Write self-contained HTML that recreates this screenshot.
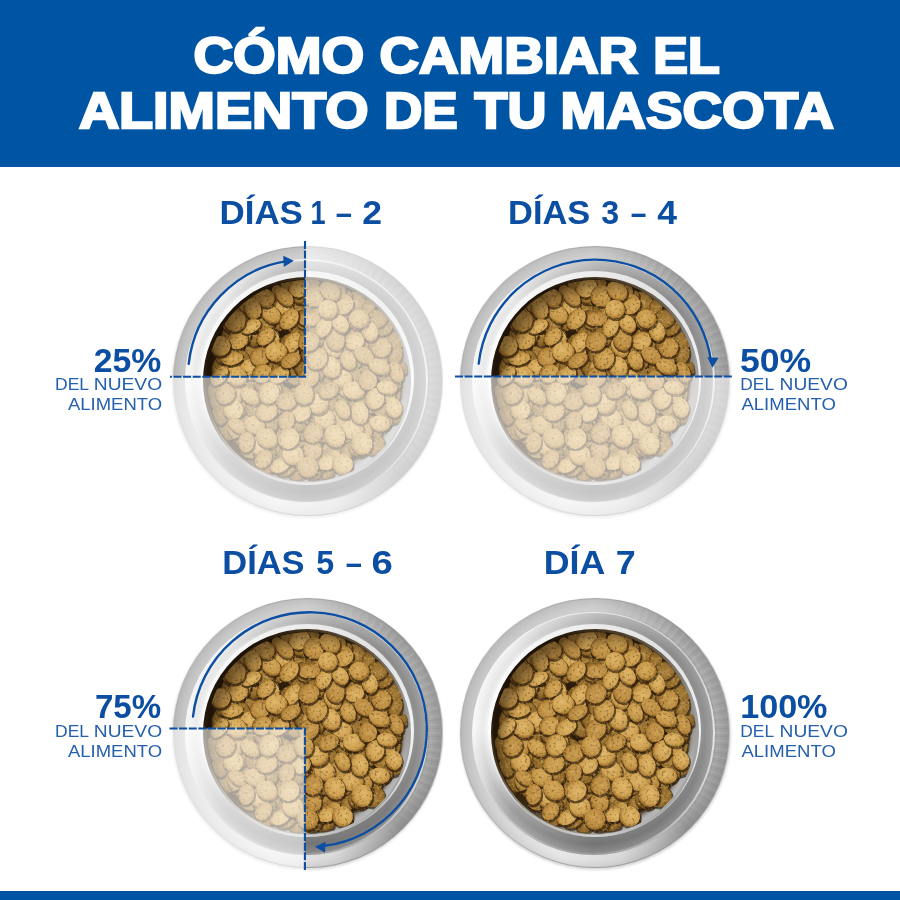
<!DOCTYPE html>
<html lang="es"><head><meta charset="utf-8"><title>Cómo cambiar el alimento de tu mascota</title>
<style>
html,body{margin:0;padding:0}
body{width:900px;height:900px;position:relative;overflow:hidden;background:#fff;font-family:"Liberation Sans",sans-serif}
.hdr{position:absolute;left:0;top:0;width:900px;height:166.5px;background:#0054a4}
.ftr{position:absolute;left:0;top:891.3px;width:900px;height:9px;background:#0054a4}
.d{position:absolute;border-radius:50%}
svg{position:absolute;left:0;top:0}
text{font-family:"Liberation Sans",sans-serif}
.b{font-weight:bold}
</style></head><body>
<div class="hdr"></div><div class="ftr"></div>
<div class="d" style="left:172.4px;top:247.0px;width:271.0px;height:271.0px;background:#d9d9d9;filter:blur(1.2px)"></div><div class="d" style="left:172.6px;top:245.6px;width:270.6px;height:270.6px;background:conic-gradient(#a9a9a9,#9a9a9a 45deg,#bdbdbd 90deg,#9a9a9a 135deg,#a2a2a2 180deg,#b8b8b8 225deg,#b4b4b4 270deg,#bdbdbd 315deg,#a9a9a9);"></div><div class="d" style="left:174.0px;top:247.0px;width:267.8px;height:267.8px;background:radial-gradient(circle closest-side,rgba(255,255,255,0) 0 89.5%,rgba(255,255,255,.12) 91.5%,rgba(255,255,255,.02) 95%,rgba(0,0,0,.04) 99%,rgba(0,0,0,.08) 100%),conic-gradient(#cacaca,#a2a2a2 40deg,#9e9e9e 90deg,#949494 135deg,#d6d6d6 168deg,#e6e6e6 195deg,#cecece 235deg,#c2c2c2 270deg,#c4c4c4 315deg,#cacaca);"></div><div class="d" style="left:174.4px;top:247.4px;width:267.0px;height:267.0px;background:repeating-conic-gradient(from 8deg,rgba(255,255,255,.08) 0deg .8deg,rgba(255,255,255,0) .8deg 1.7deg,rgba(0,0,0,.03) 1.7deg 2.3deg,rgba(255,255,255,0) 2.3deg 3.7deg);-webkit-mask-image:conic-gradient(transparent 5deg,#000 30deg,#000 110deg,transparent 150deg,transparent 360deg);mask-image:conic-gradient(transparent 5deg,#000 30deg,#000 110deg,transparent 150deg,transparent 360deg)"></div><div class="d" style="left:184.8px;top:259.3px;width:243.2px;height:243.2px;background:conic-gradient(#ececec,#d2d2d2 45deg,#e6e6e6 90deg,#c4c4c4 135deg,#989898 180deg,#c6c6c6 225deg,#f6f6f6 270deg,#f6f6f6 315deg,#ececec);"></div><div class="d" style="left:186.6px;top:261.1px;width:239.6px;height:239.6px;background:radial-gradient(circle closest-side,rgba(0,0,0,0) 0 88%,rgba(0,0,0,.05) 93%,rgba(255,255,255,.10) 100%),conic-gradient(#bababa,#929292 45deg,#979797 90deg,#828282 135deg,#7b7b7b 180deg,#a4a4a4 225deg,#dcdcdc 250deg,#f7f7f7 272deg,#f0f0f0 315deg,#bcbcbc);"></div><div class="d" style="left:200.5px;top:271.4px;width:213.8px;height:213.8px;background:conic-gradient(#ececec,#e0e0e0 45deg,#f4f4f4 90deg,#d0d0d0 135deg,#a5a5a5 180deg,#d0d0d0 225deg,#fcfcfc 270deg,#f8f8f8 315deg,#ececec);"></div><div class="d" style="left:203.4px;top:276.9px;width:208.0px;height:208.0px;background:conic-gradient(#40301a,#6a6052 40deg,#9c9c9c 75deg,#a2a2a2 100deg,#a8a8a8 140deg,#d2d2d2 180deg,#b9b5ad 215deg,#4a3a22 250deg,#22160a 280deg,#1c1208 330deg,#40301a);"></div><div class="d" style="left:459.5px;top:247.0px;width:271.0px;height:271.0px;background:#d9d9d9;filter:blur(1.2px)"></div><div class="d" style="left:459.7px;top:245.6px;width:270.6px;height:270.6px;background:conic-gradient(#a9a9a9,#9a9a9a 45deg,#bdbdbd 90deg,#9a9a9a 135deg,#a2a2a2 180deg,#b8b8b8 225deg,#b4b4b4 270deg,#bdbdbd 315deg,#a9a9a9);"></div><div class="d" style="left:461.1px;top:247.0px;width:267.8px;height:267.8px;background:radial-gradient(circle closest-side,rgba(255,255,255,0) 0 89.5%,rgba(255,255,255,.12) 91.5%,rgba(255,255,255,.02) 95%,rgba(0,0,0,.04) 99%,rgba(0,0,0,.08) 100%),conic-gradient(#cacaca,#a2a2a2 40deg,#9e9e9e 90deg,#949494 135deg,#d6d6d6 168deg,#e6e6e6 195deg,#cecece 235deg,#c2c2c2 270deg,#c4c4c4 315deg,#cacaca);"></div><div class="d" style="left:461.5px;top:247.4px;width:267.0px;height:267.0px;background:repeating-conic-gradient(from 8deg,rgba(255,255,255,.08) 0deg .8deg,rgba(255,255,255,0) .8deg 1.7deg,rgba(0,0,0,.03) 1.7deg 2.3deg,rgba(255,255,255,0) 2.3deg 3.7deg);-webkit-mask-image:conic-gradient(transparent 5deg,#000 30deg,#000 110deg,transparent 150deg,transparent 360deg);mask-image:conic-gradient(transparent 5deg,#000 30deg,#000 110deg,transparent 150deg,transparent 360deg)"></div><div class="d" style="left:471.9px;top:259.3px;width:243.2px;height:243.2px;background:conic-gradient(#ececec,#d2d2d2 45deg,#e6e6e6 90deg,#c4c4c4 135deg,#989898 180deg,#c6c6c6 225deg,#f6f6f6 270deg,#f6f6f6 315deg,#ececec);"></div><div class="d" style="left:473.7px;top:261.1px;width:239.6px;height:239.6px;background:radial-gradient(circle closest-side,rgba(0,0,0,0) 0 88%,rgba(0,0,0,.05) 93%,rgba(255,255,255,.10) 100%),conic-gradient(#bababa,#929292 45deg,#979797 90deg,#828282 135deg,#7b7b7b 180deg,#a4a4a4 225deg,#dcdcdc 250deg,#f7f7f7 272deg,#f0f0f0 315deg,#bcbcbc);"></div><div class="d" style="left:487.6px;top:271.4px;width:213.8px;height:213.8px;background:conic-gradient(#ececec,#e0e0e0 45deg,#f4f4f4 90deg,#d0d0d0 135deg,#a5a5a5 180deg,#d0d0d0 225deg,#fcfcfc 270deg,#f8f8f8 315deg,#ececec);"></div><div class="d" style="left:490.5px;top:276.9px;width:208.0px;height:208.0px;background:conic-gradient(#40301a,#6a6052 40deg,#9c9c9c 75deg,#a2a2a2 100deg,#a8a8a8 140deg,#d2d2d2 180deg,#b9b5ad 215deg,#4a3a22 250deg,#22160a 280deg,#1c1208 330deg,#40301a);"></div><div class="d" style="left:172.4px;top:599.2px;width:271.0px;height:271.0px;background:#d9d9d9;filter:blur(1.2px)"></div><div class="d" style="left:172.6px;top:597.8px;width:270.6px;height:270.6px;background:conic-gradient(#a9a9a9,#9a9a9a 45deg,#bdbdbd 90deg,#9a9a9a 135deg,#a2a2a2 180deg,#b8b8b8 225deg,#b4b4b4 270deg,#bdbdbd 315deg,#a9a9a9);"></div><div class="d" style="left:174.0px;top:599.2px;width:267.8px;height:267.8px;background:radial-gradient(circle closest-side,rgba(255,255,255,0) 0 89.5%,rgba(255,255,255,.12) 91.5%,rgba(255,255,255,.02) 95%,rgba(0,0,0,.04) 99%,rgba(0,0,0,.08) 100%),conic-gradient(#cacaca,#a2a2a2 40deg,#9e9e9e 90deg,#949494 135deg,#d6d6d6 168deg,#e6e6e6 195deg,#cecece 235deg,#c2c2c2 270deg,#c4c4c4 315deg,#cacaca);"></div><div class="d" style="left:174.4px;top:599.6px;width:267.0px;height:267.0px;background:repeating-conic-gradient(from 8deg,rgba(255,255,255,.08) 0deg .8deg,rgba(255,255,255,0) .8deg 1.7deg,rgba(0,0,0,.03) 1.7deg 2.3deg,rgba(255,255,255,0) 2.3deg 3.7deg);-webkit-mask-image:conic-gradient(transparent 5deg,#000 30deg,#000 110deg,transparent 150deg,transparent 360deg);mask-image:conic-gradient(transparent 5deg,#000 30deg,#000 110deg,transparent 150deg,transparent 360deg)"></div><div class="d" style="left:184.8px;top:611.5px;width:243.2px;height:243.2px;background:conic-gradient(#ececec,#d2d2d2 45deg,#e6e6e6 90deg,#c4c4c4 135deg,#989898 180deg,#c6c6c6 225deg,#f6f6f6 270deg,#f6f6f6 315deg,#ececec);"></div><div class="d" style="left:186.6px;top:613.3px;width:239.6px;height:239.6px;background:radial-gradient(circle closest-side,rgba(0,0,0,0) 0 88%,rgba(0,0,0,.05) 93%,rgba(255,255,255,.10) 100%),conic-gradient(#bababa,#929292 45deg,#979797 90deg,#828282 135deg,#7b7b7b 180deg,#a4a4a4 225deg,#dcdcdc 250deg,#f7f7f7 272deg,#f0f0f0 315deg,#bcbcbc);"></div><div class="d" style="left:200.5px;top:623.6px;width:213.8px;height:213.8px;background:conic-gradient(#ececec,#e0e0e0 45deg,#f4f4f4 90deg,#d0d0d0 135deg,#a5a5a5 180deg,#d0d0d0 225deg,#fcfcfc 270deg,#f8f8f8 315deg,#ececec);"></div><div class="d" style="left:203.4px;top:629.1px;width:208.0px;height:208.0px;background:conic-gradient(#40301a,#6a6052 40deg,#9c9c9c 75deg,#a2a2a2 100deg,#a8a8a8 140deg,#d2d2d2 180deg,#b9b5ad 215deg,#4a3a22 250deg,#22160a 280deg,#1c1208 330deg,#40301a);"></div><div class="d" style="left:459.5px;top:599.2px;width:271.0px;height:271.0px;background:#d9d9d9;filter:blur(1.2px)"></div><div class="d" style="left:459.7px;top:597.8px;width:270.6px;height:270.6px;background:conic-gradient(#a9a9a9,#9a9a9a 45deg,#bdbdbd 90deg,#9a9a9a 135deg,#a2a2a2 180deg,#b8b8b8 225deg,#b4b4b4 270deg,#bdbdbd 315deg,#a9a9a9);"></div><div class="d" style="left:461.1px;top:599.2px;width:267.8px;height:267.8px;background:radial-gradient(circle closest-side,rgba(255,255,255,0) 0 89.5%,rgba(255,255,255,.12) 91.5%,rgba(255,255,255,.02) 95%,rgba(0,0,0,.04) 99%,rgba(0,0,0,.08) 100%),conic-gradient(#cacaca,#a2a2a2 40deg,#9e9e9e 90deg,#949494 135deg,#d6d6d6 168deg,#e6e6e6 195deg,#cecece 235deg,#c2c2c2 270deg,#c4c4c4 315deg,#cacaca);"></div><div class="d" style="left:461.5px;top:599.6px;width:267.0px;height:267.0px;background:repeating-conic-gradient(from 8deg,rgba(255,255,255,.08) 0deg .8deg,rgba(255,255,255,0) .8deg 1.7deg,rgba(0,0,0,.03) 1.7deg 2.3deg,rgba(255,255,255,0) 2.3deg 3.7deg);-webkit-mask-image:conic-gradient(transparent 5deg,#000 30deg,#000 110deg,transparent 150deg,transparent 360deg);mask-image:conic-gradient(transparent 5deg,#000 30deg,#000 110deg,transparent 150deg,transparent 360deg)"></div><div class="d" style="left:471.9px;top:611.5px;width:243.2px;height:243.2px;background:conic-gradient(#ececec,#d2d2d2 45deg,#e6e6e6 90deg,#c4c4c4 135deg,#989898 180deg,#c6c6c6 225deg,#f6f6f6 270deg,#f6f6f6 315deg,#ececec);"></div><div class="d" style="left:473.7px;top:613.3px;width:239.6px;height:239.6px;background:radial-gradient(circle closest-side,rgba(0,0,0,0) 0 88%,rgba(0,0,0,.05) 93%,rgba(255,255,255,.10) 100%),conic-gradient(#bababa,#929292 45deg,#979797 90deg,#828282 135deg,#7b7b7b 180deg,#a4a4a4 225deg,#dcdcdc 250deg,#f7f7f7 272deg,#f0f0f0 315deg,#bcbcbc);"></div><div class="d" style="left:487.6px;top:623.6px;width:213.8px;height:213.8px;background:conic-gradient(#ececec,#e0e0e0 45deg,#f4f4f4 90deg,#d0d0d0 135deg,#a5a5a5 180deg,#d0d0d0 225deg,#fcfcfc 270deg,#f8f8f8 315deg,#ececec);"></div><div class="d" style="left:490.5px;top:629.1px;width:208.0px;height:208.0px;background:conic-gradient(#40301a,#6a6052 40deg,#9c9c9c 75deg,#a2a2a2 100deg,#a8a8a8 140deg,#d2d2d2 180deg,#b9b5ad 215deg,#4a3a22 250deg,#22160a 280deg,#1c1208 330deg,#40301a);"></div><svg width="900" height="900" viewBox="0 0 900 900">
<defs>
<radialGradient id="k1" cx=".42" cy=".4" r=".64"><stop offset="0" stop-color="#d7ab5e"/><stop offset=".7" stop-color="#c49648"/><stop offset=".9" stop-color="#9c6f2d"/><stop offset="1" stop-color="#604016"/></radialGradient>
<radialGradient id="k2" cx=".45" cy=".42" r=".64"><stop offset="0" stop-color="#cda056"/><stop offset=".7" stop-color="#b98a40"/><stop offset=".9" stop-color="#926628"/><stop offset="1" stop-color="#593b13"/></radialGradient>
<radialGradient id="k3" cx=".42" cy=".4" r=".64"><stop offset="0" stop-color="#e1b86c"/><stop offset=".7" stop-color="#cd9f50"/><stop offset=".9" stop-color="#a27430"/><stop offset="1" stop-color="#654418"/></radialGradient>
<radialGradient id="k4" cx=".45" cy=".42" r=".64"><stop offset="0" stop-color="#a8803c"/><stop offset=".75" stop-color="#8c6528"/><stop offset="1" stop-color="#4a2f10"/></radialGradient>
<radialGradient id="k5" cx=".45" cy=".42" r=".64"><stop offset="0" stop-color="#b08644"/><stop offset=".75" stop-color="#916a2a"/><stop offset="1" stop-color="#4f3311"/></radialGradient>
<filter id="grain" x="-5%" y="-5%" width="110%" height="110%" color-interpolation-filters="sRGB">
<feTurbulence type="fractalNoise" baseFrequency="0.38" numOctaves="2" seed="4" result="n"/>
<feColorMatrix in="n" type="matrix" values="0 0 0 0 0.23  0 0 0 0 0.15  0 0 0 0 0.03  0 0 0 1.7 -0.95" result="d"/>
<feComposite in="d" in2="SourceGraphic" operator="in" result="dk"/>
<feColorMatrix in="n" type="matrix" values="0 0 0 0 0.9  0 0 0 0 0.74  0 0 0 0 0.42  0 1.9 0 0 -1.04" result="l"/>
<feComposite in="l" in2="SourceGraphic" operator="in" result="lt"/>
<feMerge><feMergeNode in="SourceGraphic"/><feMergeNode in="dk"/><feMergeNode in="lt"/></feMerge>
</filter>
<linearGradient id="well" x1="0.15" y1="0.15" x2="0.85" y2="0.85"><stop offset="0" stop-color="#1c1206"/><stop offset=".5" stop-color="#3a2a14"/><stop offset=".72" stop-color="#8a8378"/><stop offset="1" stop-color="#b8b8b8"/></linearGradient><filter id="bl" x="-10%" y="-10%" width="120%" height="120%"><feGaussianBlur stdDeviation="2.2"/></filter>
<radialGradient id="shade" cx=".57" cy=".57" r=".57"><stop offset="0" stop-color="#1a0e02" stop-opacity="0"/><stop offset=".86" stop-color="#1a0e02" stop-opacity="0"/><stop offset="1" stop-color="#1a0e02" stop-opacity=".45"/></radialGradient>
<clipPath id="fc"><circle cx="0" cy="0" r="100.9"/></clipPath>
<g id="food">
<circle cx="-0.5" cy="0" r="101.6" fill="url(#well)"/>
<g clip-path="url(#fc)"><circle cx="-1.5" cy="-1.5" r="95.5" fill="#2a1b09" filter="url(#bl)"/><g filter="url(#grain)" transform="translate(-1.5 -1.5)"><ellipse cx="-15.6" cy="34.4" rx="11.6" ry="8.4" transform="rotate(41 -15.6 34.4)" fill="#2e1c0c" opacity=".7"/><ellipse cx="-16.4" cy="32.8" rx="10.7" ry="7.5" transform="rotate(41 -16.4 32.8)" fill="url(#k5)"/><ellipse cx="-14.0" cy="-19.0" rx="11.4" ry="11.0" transform="rotate(149 -14.0 -19.0)" fill="#2e1c0c" opacity=".7"/><ellipse cx="-14.8" cy="-20.6" rx="10.5" ry="10.1" transform="rotate(149 -14.8 -20.6)" fill="url(#k5)"/><ellipse cx="-54.8" cy="-11.2" rx="11.7" ry="11.3" transform="rotate(43 -54.8 -11.2)" fill="#2e1c0c" opacity=".7"/><ellipse cx="-55.6" cy="-12.8" rx="10.8" ry="10.4" transform="rotate(43 -55.6 -12.8)" fill="url(#k4)"/><ellipse cx="63.6" cy="25.6" rx="11.7" ry="10.2" transform="rotate(92 63.6 25.6)" fill="#2e1c0c" opacity=".7"/><ellipse cx="62.8" cy="24.0" rx="10.8" ry="9.3" transform="rotate(92 62.8 24.0)" fill="url(#k4)"/><ellipse cx="26.5" cy="13.7" rx="11.5" ry="8.4" transform="rotate(78 26.5 13.7)" fill="#2e1c0c" opacity=".7"/><ellipse cx="25.7" cy="12.1" rx="10.6" ry="7.5" transform="rotate(78 25.7 12.1)" fill="url(#k4)"/><ellipse cx="-75.6" cy="40.8" rx="11.7" ry="8.0" transform="rotate(121 -75.6 40.8)" fill="#2e1c0c" opacity=".7"/><ellipse cx="-76.4" cy="39.2" rx="10.8" ry="7.1" transform="rotate(121 -76.4 39.2)" fill="url(#k4)"/><ellipse cx="32.6" cy="32.9" rx="12.3" ry="8.9" transform="rotate(103 32.6 32.9)" fill="#2e1c0c" opacity=".7"/><ellipse cx="31.8" cy="31.3" rx="11.4" ry="8.0" transform="rotate(103 31.8 31.3)" fill="url(#k5)"/><ellipse cx="-63.2" cy="-64.4" rx="11.8" ry="7.8" transform="rotate(112 -63.2 -64.4)" fill="#2e1c0c" opacity=".7"/><ellipse cx="-64.0" cy="-66.0" rx="10.9" ry="6.9" transform="rotate(112 -64.0 -66.0)" fill="url(#k4)"/><ellipse cx="-51.8" cy="-26.1" rx="11.0" ry="11.5" transform="rotate(44 -51.8 -26.1)" fill="#2e1c0c" opacity=".7"/><ellipse cx="-52.6" cy="-27.7" rx="10.1" ry="10.6" transform="rotate(44 -52.6 -27.7)" fill="url(#k5)"/><ellipse cx="20.9" cy="-1.4" rx="10.8" ry="10.4" transform="rotate(49 20.9 -1.4)" fill="#2e1c0c" opacity=".7"/><ellipse cx="20.1" cy="-3.0" rx="9.9" ry="9.5" transform="rotate(49 20.1 -3.0)" fill="url(#k5)"/><ellipse cx="32.8" cy="-37.9" rx="10.7" ry="10.3" transform="rotate(105 32.8 -37.9)" fill="#2e1c0c" opacity=".7"/><ellipse cx="32.0" cy="-39.5" rx="9.8" ry="9.4" transform="rotate(105 32.0 -39.5)" fill="url(#k4)"/><ellipse cx="20.8" cy="27.1" rx="11.8" ry="8.9" transform="rotate(150 20.8 27.1)" fill="#2e1c0c" opacity=".7"/><ellipse cx="20.0" cy="25.5" rx="10.9" ry="8.0" transform="rotate(150 20.0 25.5)" fill="url(#k5)"/><ellipse cx="-29.8" cy="81.2" rx="10.9" ry="8.9" transform="rotate(131 -29.8 81.2)" fill="#2e1c0c" opacity=".7"/><ellipse cx="-30.6" cy="79.6" rx="10.0" ry="8.0" transform="rotate(131 -30.6 79.6)" fill="url(#k4)"/><ellipse cx="31.2" cy="66.9" rx="11.5" ry="8.3" transform="rotate(137 31.2 66.9)" fill="#2e1c0c" opacity=".7"/><ellipse cx="30.4" cy="65.3" rx="10.6" ry="7.4" transform="rotate(137 30.4 65.3)" fill="url(#k5)"/><ellipse cx="-36.2" cy="-42.5" rx="11.5" ry="10.0" transform="rotate(36 -36.2 -42.5)" fill="#2e1c0c" opacity=".7"/><ellipse cx="-37.0" cy="-44.1" rx="10.6" ry="9.1" transform="rotate(36 -37.0 -44.1)" fill="url(#k5)"/><ellipse cx="-21.8" cy="-5.4" rx="11.6" ry="11.2" transform="rotate(22 -21.8 -5.4)" fill="#2e1c0c" opacity=".7"/><ellipse cx="-22.6" cy="-7.0" rx="10.7" ry="10.3" transform="rotate(22 -22.6 -7.0)" fill="url(#k5)"/><ellipse cx="40.7" cy="17.3" rx="11.2" ry="7.9" transform="rotate(132 40.7 17.3)" fill="#2e1c0c" opacity=".7"/><ellipse cx="39.9" cy="15.7" rx="10.3" ry="7.0" transform="rotate(132 39.9 15.7)" fill="url(#k5)"/><ellipse cx="-25.3" cy="-54.3" rx="12.3" ry="7.8" transform="rotate(8 -25.3 -54.3)" fill="#2e1c0c" opacity=".7"/><ellipse cx="-26.1" cy="-55.9" rx="11.4" ry="6.9" transform="rotate(8 -26.1 -55.9)" fill="url(#k4)"/><ellipse cx="-27.5" cy="68.0" rx="12.0" ry="11.1" transform="rotate(17 -27.5 68.0)" fill="#2e1c0c" opacity=".7"/><ellipse cx="-28.3" cy="66.4" rx="11.1" ry="10.2" transform="rotate(17 -28.3 66.4)" fill="url(#k4)"/><ellipse cx="-48.7" cy="16.6" rx="11.4" ry="7.9" transform="rotate(42 -48.7 16.6)" fill="#2e1c0c" opacity=".7"/><ellipse cx="-49.5" cy="15.0" rx="10.5" ry="7.0" transform="rotate(42 -49.5 15.0)" fill="url(#k5)"/><ellipse cx="22.5" cy="-74.3" rx="11.6" ry="11.5" transform="rotate(2 22.5 -74.3)" fill="#2e1c0c" opacity=".7"/><ellipse cx="21.7" cy="-75.9" rx="10.7" ry="10.6" transform="rotate(2 21.7 -75.9)" fill="url(#k4)"/><ellipse cx="3.5" cy="73.1" rx="10.7" ry="10.5" transform="rotate(7 3.5 73.1)" fill="#2e1c0c" opacity=".7"/><ellipse cx="2.7" cy="71.5" rx="9.8" ry="9.6" transform="rotate(7 2.7 71.5)" fill="url(#k5)"/><ellipse cx="-86.4" cy="-12.3" rx="12.3" ry="7.5" transform="rotate(113 -86.4 -12.3)" fill="#2e1c0c" opacity=".7"/><ellipse cx="-87.2" cy="-13.9" rx="11.4" ry="6.6" transform="rotate(113 -87.2 -13.9)" fill="url(#k4)"/><ellipse cx="-5.7" cy="-48.6" rx="11.8" ry="10.0" transform="rotate(144 -5.7 -48.6)" fill="#2e1c0c" opacity=".7"/><ellipse cx="-6.5" cy="-50.2" rx="10.9" ry="9.1" transform="rotate(144 -6.5 -50.2)" fill="url(#k4)"/><ellipse cx="33.0" cy="-2.4" rx="11.2" ry="9.3" transform="rotate(67 33.0 -2.4)" fill="#2e1c0c" opacity=".7"/><ellipse cx="32.2" cy="-4.0" rx="10.3" ry="8.4" transform="rotate(67 32.2 -4.0)" fill="url(#k4)"/><ellipse cx="38.9" cy="55.5" rx="11.0" ry="11.2" transform="rotate(97 38.9 55.5)" fill="#2e1c0c" opacity=".7"/><ellipse cx="38.1" cy="53.9" rx="10.1" ry="10.3" transform="rotate(97 38.1 53.9)" fill="url(#k5)"/><ellipse cx="75.6" cy="20.4" rx="11.7" ry="7.8" transform="rotate(145 75.6 20.4)" fill="#2e1c0c" opacity=".7"/><ellipse cx="74.8" cy="18.8" rx="10.8" ry="6.9" transform="rotate(145 74.8 18.8)" fill="url(#k5)"/><ellipse cx="7.3" cy="-69.6" rx="11.5" ry="7.9" transform="rotate(179 7.3 -69.6)" fill="#2e1c0c" opacity=".7"/><ellipse cx="6.5" cy="-71.2" rx="10.6" ry="7.0" transform="rotate(179 6.5 -71.2)" fill="url(#k5)"/><ellipse cx="-23.7" cy="-66.9" rx="12.3" ry="7.7" transform="rotate(92 -23.7 -66.9)" fill="#2e1c0c" opacity=".7"/><ellipse cx="-24.5" cy="-68.5" rx="11.4" ry="6.8" transform="rotate(92 -24.5 -68.5)" fill="url(#k4)"/><ellipse cx="49.9" cy="-75.9" rx="11.3" ry="10.6" transform="rotate(83 49.9 -75.9)" fill="#2e1c0c" opacity=".7"/><ellipse cx="49.1" cy="-77.5" rx="10.4" ry="9.7" transform="rotate(83 49.1 -77.5)" fill="url(#k5)"/><ellipse cx="-75.1" cy="14.1" rx="12.4" ry="8.6" transform="rotate(167 -75.1 14.1)" fill="#2e1c0c" opacity=".7"/><ellipse cx="-75.9" cy="12.5" rx="11.5" ry="7.7" transform="rotate(167 -75.9 12.5)" fill="url(#k5)"/><ellipse cx="-55.9" cy="-73.5" rx="11.8" ry="9.9" transform="rotate(179 -55.9 -73.5)" fill="#2e1c0c" opacity=".7"/><ellipse cx="-56.7" cy="-75.1" rx="10.9" ry="9.0" transform="rotate(179 -56.7 -75.1)" fill="url(#k5)"/><ellipse cx="22.8" cy="-43.7" rx="11.7" ry="8.6" transform="rotate(97 22.8 -43.7)" fill="#2e1c0c" opacity=".7"/><ellipse cx="22.0" cy="-45.3" rx="10.8" ry="7.7" transform="rotate(97 22.0 -45.3)" fill="url(#k4)"/><ellipse cx="-57.4" cy="52.4" rx="12.3" ry="8.1" transform="rotate(18 -57.4 52.4)" fill="#2e1c0c" opacity=".7"/><ellipse cx="-58.2" cy="50.8" rx="11.4" ry="7.2" transform="rotate(18 -58.2 50.8)" fill="url(#k4)"/><ellipse cx="64.3" cy="10.7" rx="11.9" ry="11.2" transform="rotate(60 64.3 10.7)" fill="#2e1c0c" opacity=".7"/><ellipse cx="63.5" cy="9.1" rx="11.0" ry="10.3" transform="rotate(60 63.5 9.1)" fill="url(#k5)"/><ellipse cx="77.9" cy="31.6" rx="11.0" ry="7.5" transform="rotate(167 77.9 31.6)" fill="#2e1c0c" opacity=".7"/><ellipse cx="77.1" cy="30.0" rx="10.1" ry="6.6" transform="rotate(167 77.1 30.0)" fill="url(#k5)"/><ellipse cx="-67.4" cy="57.4" rx="11.8" ry="8.2" transform="rotate(53 -67.4 57.4)" fill="#2e1c0c" opacity=".7"/><ellipse cx="-68.2" cy="55.8" rx="10.9" ry="7.3" transform="rotate(53 -68.2 55.8)" fill="url(#k4)"/><ellipse cx="-83.7" cy="-25.5" rx="12.0" ry="8.2" transform="rotate(89 -83.7 -25.5)" fill="#2e1c0c" opacity=".7"/><ellipse cx="-84.5" cy="-27.1" rx="11.1" ry="7.3" transform="rotate(89 -84.5 -27.1)" fill="url(#k5)"/><ellipse cx="37.8" cy="-78.0" rx="11.6" ry="7.5" transform="rotate(130 37.8 -78.0)" fill="#2e1c0c" opacity=".7"/><ellipse cx="37.0" cy="-79.6" rx="10.7" ry="6.6" transform="rotate(130 37.0 -79.6)" fill="url(#k5)"/><ellipse cx="-10.0" cy="61.5" rx="11.4" ry="10.1" transform="rotate(173 -10.0 61.5)" fill="#2e1c0c" opacity=".7"/><ellipse cx="-10.8" cy="59.9" rx="10.5" ry="9.2" transform="rotate(173 -10.8 59.9)" fill="url(#k4)"/><ellipse cx="-55.3" cy="70.4" rx="11.2" ry="11.0" transform="rotate(169 -55.3 70.4)" fill="#2e1c0c" opacity=".7"/><ellipse cx="-56.1" cy="68.8" rx="10.3" ry="10.1" transform="rotate(169 -56.1 68.8)" fill="url(#k5)"/><ellipse cx="21.1" cy="42.3" rx="11.7" ry="10.3" transform="rotate(109 21.1 42.3)" fill="#2e1c0c" opacity=".7"/><ellipse cx="20.3" cy="40.7" rx="10.8" ry="9.4" transform="rotate(109 20.3 40.7)" fill="url(#k4)"/><ellipse cx="-40.2" cy="-24.1" rx="11.8" ry="8.4" transform="rotate(59 -40.2 -24.1)" fill="#2e1c0c" opacity=".7"/><ellipse cx="-41.0" cy="-25.7" rx="10.9" ry="7.5" transform="rotate(59 -41.0 -25.7)" fill="url(#k5)"/><ellipse cx="75.9" cy="-21.2" rx="11.2" ry="10.0" transform="rotate(92 75.9 -21.2)" fill="#2e1c0c" opacity=".7"/><ellipse cx="75.1" cy="-22.8" rx="10.3" ry="9.1" transform="rotate(92 75.1 -22.8)" fill="url(#k4)"/><ellipse cx="-73.0" cy="-5.6" rx="11.8" ry="10.2" transform="rotate(48 -73.0 -5.6)" fill="#2e1c0c" opacity=".7"/><ellipse cx="-73.8" cy="-7.2" rx="10.9" ry="9.3" transform="rotate(48 -73.8 -7.2)" fill="url(#k5)"/><ellipse cx="68.1" cy="-47.6" rx="12.0" ry="10.5" transform="rotate(122 68.1 -47.6)" fill="#2e1c0c" opacity=".7"/><ellipse cx="67.3" cy="-49.2" rx="11.1" ry="9.6" transform="rotate(122 67.3 -49.2)" fill="url(#k5)"/><ellipse cx="60.2" cy="-58.2" rx="11.3" ry="11.3" transform="rotate(62 60.2 -58.2)" fill="#2e1c0c" opacity=".7"/><ellipse cx="59.4" cy="-59.8" rx="10.4" ry="10.4" transform="rotate(62 59.4 -59.8)" fill="url(#k4)"/><ellipse cx="-45.7" cy="38.9" rx="11.5" ry="8.2" transform="rotate(177 -45.7 38.9)" fill="#2e1c0c" opacity=".7"/><ellipse cx="-46.5" cy="37.3" rx="10.6" ry="7.3" transform="rotate(177 -46.5 37.3)" fill="url(#k5)"/><ellipse cx="60.6" cy="47.1" rx="11.5" ry="11.5" transform="rotate(5 60.6 47.1)" fill="#2e1c0c" opacity=".7"/><ellipse cx="59.8" cy="45.5" rx="10.6" ry="10.6" transform="rotate(5 59.8 45.5)" fill="url(#k4)"/><ellipse cx="10.5" cy="38.4" rx="11.8" ry="10.0" transform="rotate(144 10.5 38.4)" fill="#2e1c0c" opacity=".7"/><ellipse cx="9.7" cy="36.8" rx="10.9" ry="9.1" transform="rotate(144 9.7 36.8)" fill="url(#k5)"/><ellipse cx="-10.8" cy="19.9" rx="11.4" ry="8.2" transform="rotate(92 -10.8 19.9)" fill="#2e1c0c" opacity=".7"/><ellipse cx="-11.6" cy="18.3" rx="10.5" ry="7.3" transform="rotate(92 -11.6 18.3)" fill="url(#k4)"/><ellipse cx="46.5" cy="35.5" rx="10.7" ry="9.0" transform="rotate(60 46.5 35.5)" fill="#2e1c0c" opacity=".7"/><ellipse cx="45.7" cy="33.9" rx="9.8" ry="8.1" transform="rotate(60 45.7 33.9)" fill="url(#k4)"/><ellipse cx="87.9" cy="15.7" rx="12.2" ry="8.0" transform="rotate(98 87.9 15.7)" fill="#2e1c0c" opacity=".7"/><ellipse cx="87.1" cy="14.1" rx="11.3" ry="7.1" transform="rotate(98 87.1 14.1)" fill="url(#k5)"/><ellipse cx="-26.6" cy="-22.3" rx="11.2" ry="8.8" transform="rotate(72 -26.6 -22.3)" fill="#2e1c0c" opacity=".7"/><ellipse cx="-27.4" cy="-23.9" rx="10.3" ry="7.9" transform="rotate(72 -27.4 -23.9)" fill="url(#k5)"/><ellipse cx="-63.4" cy="15.5" rx="11.7" ry="10.7" transform="rotate(83 -63.4 15.5)" fill="#2e1c0c" opacity=".7"/><ellipse cx="-64.2" cy="13.9" rx="10.8" ry="9.8" transform="rotate(83 -64.2 13.9)" fill="url(#k5)"/><ellipse cx="-25.9" cy="42.2" rx="11.5" ry="11.4" transform="rotate(166 -25.9 42.2)" fill="#2e1c0c" opacity=".7"/><ellipse cx="-26.7" cy="40.6" rx="10.6" ry="10.5" transform="rotate(166 -26.7 40.6)" fill="url(#k4)"/><ellipse cx="18.8" cy="-31.8" rx="12.0" ry="9.8" transform="rotate(172 18.8 -31.8)" fill="#2e1c0c" opacity=".7"/><ellipse cx="18.0" cy="-33.4" rx="11.1" ry="8.9" transform="rotate(172 18.0 -33.4)" fill="url(#k4)"/><ellipse cx="-34.8" cy="-4.8" rx="12.0" ry="11.2" transform="rotate(113 -34.8 -4.8)" fill="#2e1c0c" opacity=".7"/><ellipse cx="-35.6" cy="-6.4" rx="11.1" ry="10.3" transform="rotate(113 -35.6 -6.4)" fill="url(#k4)"/><ellipse cx="42.1" cy="73.5" rx="10.6" ry="7.7" transform="rotate(131 42.1 73.5)" fill="#2e1c0c" opacity=".7"/><ellipse cx="41.3" cy="71.9" rx="9.7" ry="6.8" transform="rotate(131 41.3 71.9)" fill="url(#k5)"/><ellipse cx="49.9" cy="10.3" rx="12.0" ry="11.3" transform="rotate(42 49.9 10.3)" fill="#2e1c0c" opacity=".7"/><ellipse cx="49.1" cy="8.7" rx="11.1" ry="10.4" transform="rotate(42 49.1 8.7)" fill="url(#k4)"/><ellipse cx="61.6" cy="-15.4" rx="10.8" ry="8.9" transform="rotate(98 61.6 -15.4)" fill="#2e1c0c" opacity=".7"/><ellipse cx="60.8" cy="-17.0" rx="9.9" ry="8.0" transform="rotate(98 60.8 -17.0)" fill="url(#k4)"/><ellipse cx="87.4" cy="-34.6" rx="11.6" ry="10.2" transform="rotate(84 87.4 -34.6)" fill="#2e1c0c" opacity=".7"/><ellipse cx="86.6" cy="-36.2" rx="10.7" ry="9.3" transform="rotate(84 86.6 -36.2)" fill="url(#k4)"/><ellipse cx="36.0" cy="-53.5" rx="11.6" ry="7.8" transform="rotate(87 36.0 -53.5)" fill="#2e1c0c" opacity=".7"/><ellipse cx="35.2" cy="-55.1" rx="10.7" ry="6.9" transform="rotate(87 35.2 -55.1)" fill="url(#k4)"/><ellipse cx="-41.1" cy="75.0" rx="12.2" ry="10.1" transform="rotate(6 -41.1 75.0)" fill="#2e1c0c" opacity=".7"/><ellipse cx="-41.9" cy="73.4" rx="11.3" ry="9.2" transform="rotate(6 -41.9 73.4)" fill="url(#k5)"/><ellipse cx="-5.3" cy="-36.8" rx="11.8" ry="11.2" transform="rotate(4 -5.3 -36.8)" fill="#2e1c0c" opacity=".7"/><ellipse cx="-6.1" cy="-38.4" rx="10.9" ry="10.3" transform="rotate(4 -6.1 -38.4)" fill="url(#k4)"/><ellipse cx="52.9" cy="69.8" rx="11.5" ry="10.1" transform="rotate(26 52.9 69.8)" fill="#2e1c0c" opacity=".7"/><ellipse cx="52.1" cy="68.2" rx="10.6" ry="9.2" transform="rotate(26 52.1 68.2)" fill="url(#k4)"/><ellipse cx="76.7" cy="-7.8" rx="11.4" ry="11.1" transform="rotate(115 76.7 -7.8)" fill="#2e1c0c" opacity=".7"/><ellipse cx="75.9" cy="-9.4" rx="10.5" ry="10.2" transform="rotate(115 75.9 -9.4)" fill="url(#k4)"/><ellipse cx="-40.4" cy="58.1" rx="11.3" ry="10.2" transform="rotate(159 -40.4 58.1)" fill="#2e1c0c" opacity=".7"/><ellipse cx="-41.2" cy="56.5" rx="10.4" ry="9.3" transform="rotate(159 -41.2 56.5)" fill="url(#k4)"/><ellipse cx="8.5" cy="9.9" rx="11.7" ry="11.5" transform="rotate(115 8.5 9.9)" fill="#2e1c0c" opacity=".7"/><ellipse cx="7.7" cy="8.3" rx="10.8" ry="10.6" transform="rotate(115 7.7 8.3)" fill="url(#k4)"/><ellipse cx="0.2" cy="52.7" rx="11.1" ry="7.7" transform="rotate(120 0.2 52.7)" fill="#2e1c0c" opacity=".7"/><ellipse cx="-0.6" cy="51.1" rx="10.2" ry="6.8" transform="rotate(120 -0.6 51.1)" fill="url(#k4)"/><ellipse cx="-76.9" cy="-43.3" rx="11.2" ry="7.9" transform="rotate(110 -76.9 -43.3)" fill="#2e1c0c" opacity=".7"/><ellipse cx="-77.7" cy="-44.9" rx="10.3" ry="7.0" transform="rotate(110 -77.7 -44.9)" fill="url(#k4)"/><ellipse cx="-12.0" cy="-0.3" rx="10.8" ry="7.9" transform="rotate(35 -12.0 -0.3)" fill="#2e1c0c" opacity=".7"/><ellipse cx="-12.8" cy="-1.9" rx="9.9" ry="7.0" transform="rotate(35 -12.8 -1.9)" fill="url(#k4)"/><ellipse cx="-36.8" cy="16.4" rx="10.6" ry="8.0" transform="rotate(19 -36.8 16.4)" fill="#2e1c0c" opacity=".7"/><ellipse cx="-37.6" cy="14.8" rx="9.7" ry="7.1" transform="rotate(19 -37.6 14.8)" fill="url(#k5)"/><ellipse cx="85.2" cy="3.7" rx="12.4" ry="9.9" transform="rotate(34 85.2 3.7)" fill="#2e1c0c" opacity=".7"/><ellipse cx="84.4" cy="2.1" rx="11.5" ry="9.0" transform="rotate(34 84.4 2.1)" fill="url(#k4)"/><ellipse cx="-10.1" cy="-68.0" rx="12.2" ry="10.0" transform="rotate(128 -10.1 -68.0)" fill="#2e1c0c" opacity=".7"/><ellipse cx="-10.9" cy="-69.6" rx="11.3" ry="9.1" transform="rotate(128 -10.9 -69.6)" fill="url(#k4)"/><ellipse cx="54.4" cy="-31.2" rx="11.4" ry="9.0" transform="rotate(44 54.4 -31.2)" fill="#2e1c0c" opacity=".7"/><ellipse cx="53.6" cy="-32.8" rx="10.5" ry="8.1" transform="rotate(44 53.6 -32.8)" fill="url(#k5)"/><ellipse cx="-50.2" cy="-42.0" rx="11.6" ry="11.4" transform="rotate(1 -50.2 -42.0)" fill="#2e1c0c" opacity=".7"/><ellipse cx="-51.0" cy="-43.6" rx="10.7" ry="10.5" transform="rotate(1 -51.0 -43.6)" fill="url(#k4)"/><ellipse cx="-89.9" cy="14.2" rx="10.7" ry="9.2" transform="rotate(80 -89.9 14.2)" fill="#2e1c0c" opacity=".7"/><ellipse cx="-90.7" cy="12.6" rx="9.8" ry="8.3" transform="rotate(80 -90.7 12.6)" fill="url(#k4)"/><ellipse cx="-26.9" cy="-82.3" rx="11.9" ry="7.7" transform="rotate(72 -26.9 -82.3)" fill="#2e1c0c" opacity=".7"/><ellipse cx="-27.7" cy="-83.9" rx="11.0" ry="6.8" transform="rotate(72 -27.7 -83.9)" fill="url(#k5)"/><ellipse cx="45.8" cy="-15.5" rx="10.7" ry="8.4" transform="rotate(26 45.8 -15.5)" fill="#2e1c0c" opacity=".7"/><ellipse cx="45.0" cy="-17.1" rx="9.8" ry="7.5" transform="rotate(26 45.0 -17.1)" fill="url(#k4)"/><ellipse cx="19.7" cy="-85.8" rx="11.5" ry="9.2" transform="rotate(104 19.7 -85.8)" fill="#2e1c0c" opacity=".7"/><ellipse cx="18.9" cy="-87.4" rx="10.6" ry="8.3" transform="rotate(104 18.9 -87.4)" fill="url(#k4)"/><ellipse cx="18.3" cy="92.1" rx="12.2" ry="10.2" transform="rotate(2 18.3 92.1)" fill="#2e1c0c" opacity=".7"/><ellipse cx="17.5" cy="90.5" rx="11.3" ry="9.3" transform="rotate(2 17.5 90.5)" fill="url(#k4)"/><ellipse cx="-1.5" cy="-11.4" rx="11.7" ry="11.1" transform="rotate(80 -1.5 -11.4)" fill="#2e1c0c" opacity=".7"/><ellipse cx="-2.3" cy="-13.0" rx="10.8" ry="10.2" transform="rotate(80 -2.3 -13.0)" fill="url(#k4)"/><ellipse cx="87.0" cy="38.4" rx="10.7" ry="8.5" transform="rotate(169 87.0 38.4)" fill="#2e1c0c" opacity=".7"/><ellipse cx="86.2" cy="36.8" rx="9.8" ry="7.6" transform="rotate(169 86.2 36.8)" fill="url(#k4)"/><ellipse cx="-3.6" cy="35.3" rx="12.0" ry="10.9" transform="rotate(125 -3.6 35.3)" fill="#2e1c0c" opacity=".7"/><ellipse cx="-4.4" cy="33.7" rx="11.1" ry="10.0" transform="rotate(125 -4.4 33.7)" fill="url(#k5)"/><ellipse cx="-70.6" cy="-32.3" rx="11.3" ry="10.2" transform="rotate(100 -70.6 -32.3)" fill="#2e1c0c" opacity=".7"/><ellipse cx="-71.4" cy="-33.9" rx="10.4" ry="9.3" transform="rotate(100 -71.4 -33.9)" fill="url(#k5)"/><ellipse cx="76.3" cy="45.5" rx="12.2" ry="8.6" transform="rotate(154 76.3 45.5)" fill="#2e1c0c" opacity=".7"/><ellipse cx="75.5" cy="43.9" rx="11.3" ry="7.7" transform="rotate(154 75.5 43.9)" fill="url(#k5)"/><ellipse cx="-6.9" cy="93.9" rx="11.4" ry="8.9" transform="rotate(145 -6.9 93.9)" fill="#2e1c0c" opacity=".7"/><ellipse cx="-7.7" cy="92.3" rx="10.5" ry="8.0" transform="rotate(145 -7.7 92.3)" fill="url(#k4)"/><ellipse cx="-19.8" cy="54.1" rx="10.8" ry="10.8" transform="rotate(61 -19.8 54.1)" fill="#2e1c0c" opacity=".7"/><ellipse cx="-20.6" cy="52.5" rx="9.9" ry="9.9" transform="rotate(61 -20.6 52.5)" fill="url(#k5)"/><ellipse cx="-7.8" cy="-83.0" rx="11.8" ry="9.1" transform="rotate(32 -7.8 -83.0)" fill="#2e1c0c" opacity=".7"/><ellipse cx="-8.6" cy="-84.6" rx="10.9" ry="8.2" transform="rotate(32 -8.6 -84.6)" fill="url(#k5)"/><ellipse cx="-85.4" cy="-0.8" rx="10.8" ry="7.8" transform="rotate(60 -85.4 -0.8)" fill="#2e1c0c" opacity=".7"/><ellipse cx="-86.2" cy="-2.4" rx="9.9" ry="6.9" transform="rotate(60 -86.2 -2.4)" fill="url(#k4)"/><ellipse cx="38.8" cy="43.7" rx="11.2" ry="9.1" transform="rotate(178 38.8 43.7)" fill="#2e1c0c" opacity=".7"/><ellipse cx="38.0" cy="42.1" rx="10.3" ry="8.2" transform="rotate(178 38.0 42.1)" fill="url(#k5)"/><ellipse cx="69.0" cy="54.5" rx="11.8" ry="8.3" transform="rotate(102 69.0 54.5)" fill="#2e1c0c" opacity=".7"/><ellipse cx="68.2" cy="52.9" rx="10.9" ry="7.4" transform="rotate(102 68.2 52.9)" fill="url(#k5)"/><ellipse cx="-53.8" cy="-53.9" rx="11.6" ry="8.0" transform="rotate(42 -53.8 -53.9)" fill="#2e1c0c" opacity=".7"/><ellipse cx="-54.6" cy="-55.5" rx="10.7" ry="7.1" transform="rotate(42 -54.6 -55.5)" fill="url(#k4)"/><ellipse cx="-57.5" cy="3.8" rx="10.8" ry="10.3" transform="rotate(16 -57.5 3.8)" fill="#2e1c0c" opacity=".7"/><ellipse cx="-58.3" cy="2.2" rx="9.9" ry="9.4" transform="rotate(16 -58.3 2.2)" fill="url(#k4)"/><ellipse cx="-36.2" cy="-67.7" rx="12.1" ry="10.0" transform="rotate(173 -36.2 -67.7)" fill="#2e1c0c" opacity=".7"/><ellipse cx="-37.0" cy="-69.3" rx="11.2" ry="9.1" transform="rotate(173 -37.0 -69.3)" fill="url(#k5)"/><ellipse cx="33.9" cy="-24.5" rx="10.7" ry="10.4" transform="rotate(138 33.9 -24.5)" fill="#2e1c0c" opacity=".7"/><ellipse cx="33.1" cy="-26.1" rx="9.8" ry="9.5" transform="rotate(138 33.1 -26.1)" fill="url(#k5)"/><ellipse cx="91.3" cy="-10.9" rx="12.2" ry="9.1" transform="rotate(29 91.3 -10.9)" fill="#2e1c0c" opacity=".7"/><ellipse cx="90.5" cy="-12.5" rx="11.3" ry="8.2" transform="rotate(29 90.5 -12.5)" fill="url(#k4)"/><ellipse cx="18.4" cy="71.4" rx="10.9" ry="10.3" transform="rotate(114 18.4 71.4)" fill="#2e1c0c" opacity=".7"/><ellipse cx="17.6" cy="69.8" rx="10.0" ry="9.4" transform="rotate(114 17.6 69.8)" fill="url(#k5)"/><ellipse cx="72.1" cy="-34.0" rx="10.8" ry="10.4" transform="rotate(122 72.1 -34.0)" fill="#2e1c0c" opacity=".7"/><ellipse cx="71.3" cy="-35.6" rx="9.9" ry="9.5" transform="rotate(122 71.3 -35.6)" fill="url(#k5)"/><ellipse cx="-19.5" cy="90.6" rx="11.1" ry="8.0" transform="rotate(152 -19.5 90.6)" fill="#2e1c0c" opacity=".7"/><ellipse cx="-20.3" cy="89.0" rx="10.2" ry="7.1" transform="rotate(152 -20.3 89.0)" fill="url(#k4)"/><ellipse cx="31.0" cy="-13.4" rx="11.6" ry="7.6" transform="rotate(107 31.0 -13.4)" fill="#2e1c0c" opacity=".7"/><ellipse cx="30.2" cy="-15.0" rx="10.7" ry="6.7" transform="rotate(107 30.2 -15.0)" fill="url(#k4)"/><ellipse cx="-43.5" cy="2.4" rx="11.2" ry="10.2" transform="rotate(104 -43.5 2.4)" fill="#2e1c0c" opacity=".7"/><ellipse cx="-44.3" cy="0.8" rx="10.3" ry="9.3" transform="rotate(104 -44.3 0.8)" fill="url(#k5)"/><ellipse cx="79.2" cy="-50.7" rx="11.1" ry="8.1" transform="rotate(132 79.2 -50.7)" fill="#2e1c0c" opacity=".7"/><ellipse cx="78.4" cy="-52.3" rx="10.2" ry="7.2" transform="rotate(132 78.4 -52.3)" fill="url(#k4)"/><ellipse cx="0.7" cy="-59.1" rx="12.4" ry="11.5" transform="rotate(162 0.7 -59.1)" fill="#2e1c0c" opacity=".7"/><ellipse cx="-0.1" cy="-60.7" rx="11.5" ry="10.6" transform="rotate(162 -0.1 -60.7)" fill="url(#k4)"/><ellipse cx="-57.8" cy="36.8" rx="10.9" ry="11.1" transform="rotate(142 -57.8 36.8)" fill="#2e1c0c" opacity=".7"/><ellipse cx="-58.6" cy="35.2" rx="10.0" ry="10.2" transform="rotate(142 -58.6 35.2)" fill="url(#k5)"/><ellipse cx="10.5" cy="-8.4" rx="12.2" ry="8.4" transform="rotate(68 10.5 -8.4)" fill="#2e1c0c" opacity=".7"/><ellipse cx="9.7" cy="-10.0" rx="11.3" ry="7.5" transform="rotate(68 9.7 -10.0)" fill="url(#k5)"/><ellipse cx="-0.3" cy="0.9" rx="11.1" ry="8.0" transform="rotate(71 -0.3 0.9)" fill="#2e1c0c" opacity=".7"/><ellipse cx="-1.1" cy="-0.7" rx="10.2" ry="7.1" transform="rotate(71 -1.1 -0.7)" fill="url(#k5)"/><ellipse cx="-48.8" cy="-64.4" rx="12.4" ry="11.2" transform="rotate(112 -48.8 -64.4)" fill="#2e1c0c" opacity=".7"/><ellipse cx="-49.6" cy="-66.0" rx="11.5" ry="10.3" transform="rotate(112 -49.6 -66.0)" fill="url(#k5)"/><ellipse cx="-33.2" cy="30.5" rx="12.0" ry="9.9" transform="rotate(134 -33.2 30.5)" fill="#2e1c0c" opacity=".7"/><ellipse cx="-34.0" cy="28.9" rx="11.1" ry="9.0" transform="rotate(134 -34.0 28.9)" fill="url(#k5)"/><ellipse cx="49.3" cy="-41.8" rx="11.8" ry="8.4" transform="rotate(151 49.3 -41.8)" fill="#2e1c0c" opacity=".7"/><ellipse cx="48.5" cy="-43.4" rx="10.9" ry="7.5" transform="rotate(151 48.5 -43.4)" fill="url(#k5)"/><ellipse cx="-44.3" cy="-77.2" rx="11.0" ry="10.9" transform="rotate(79 -44.3 -77.2)" fill="#2e1c0c" opacity=".7"/><ellipse cx="-45.1" cy="-78.8" rx="10.1" ry="10.0" transform="rotate(79 -45.1 -78.8)" fill="url(#k4)"/><ellipse cx="-16.5" cy="-36.7" rx="11.6" ry="8.0" transform="rotate(148 -16.5 -36.7)" fill="#2e1c0c" opacity=".7"/><ellipse cx="-17.3" cy="-38.3" rx="10.7" ry="7.1" transform="rotate(148 -17.3 -38.3)" fill="url(#k4)"/><ellipse cx="11.0" cy="61.7" rx="11.1" ry="7.7" transform="rotate(105 11.0 61.7)" fill="#2e1c0c" opacity=".7"/><ellipse cx="10.2" cy="60.1" rx="10.2" ry="6.8" transform="rotate(105 10.2 60.1)" fill="url(#k4)"/><ellipse cx="36.8" cy="85.5" rx="11.9" ry="7.8" transform="rotate(30 36.8 85.5)" fill="#2e1c0c" opacity=".7"/><ellipse cx="36.0" cy="83.9" rx="11.0" ry="6.9" transform="rotate(30 36.0 83.9)" fill="url(#k5)"/><ellipse cx="20.8" cy="55.0" rx="11.9" ry="8.6" transform="rotate(134 20.8 55.0)" fill="#2e1c0c" opacity=".7"/><ellipse cx="20.0" cy="53.4" rx="11.0" ry="7.7" transform="rotate(134 20.0 53.4)" fill="url(#k5)"/><ellipse cx="-5.3" cy="81.3" rx="11.7" ry="9.0" transform="rotate(92 -5.3 81.3)" fill="#2e1c0c" opacity=".7"/><ellipse cx="-6.1" cy="79.7" rx="10.8" ry="8.1" transform="rotate(92 -6.1 79.7)" fill="url(#k4)"/><ellipse cx="89.6" cy="-23.1" rx="11.3" ry="7.9" transform="rotate(104 89.6 -23.1)" fill="#2e1c0c" opacity=".7"/><ellipse cx="88.8" cy="-24.7" rx="10.4" ry="7.0" transform="rotate(104 88.8 -24.7)" fill="url(#k5)"/><ellipse cx="6.1" cy="-24.4" rx="12.0" ry="10.6" transform="rotate(157 6.1 -24.4)" fill="#2e1c0c" opacity=".7"/><ellipse cx="5.3" cy="-26.0" rx="11.1" ry="9.7" transform="rotate(157 5.3 -26.0)" fill="url(#k5)"/><ellipse cx="27.4" cy="79.1" rx="11.6" ry="8.9" transform="rotate(54 27.4 79.1)" fill="#2e1c0c" opacity=".7"/><ellipse cx="26.6" cy="77.5" rx="10.7" ry="8.0" transform="rotate(54 26.6 77.5)" fill="url(#k5)"/><ellipse cx="62.8" cy="-69.4" rx="11.5" ry="7.5" transform="rotate(101 62.8 -69.4)" fill="#2e1c0c" opacity=".7"/><ellipse cx="62.0" cy="-71.0" rx="10.6" ry="6.6" transform="rotate(101 62.0 -71.0)" fill="url(#k4)"/><ellipse cx="10.7" cy="-41.8" rx="11.1" ry="8.8" transform="rotate(73 10.7 -41.8)" fill="#2e1c0c" opacity=".7"/><ellipse cx="9.9" cy="-43.4" rx="10.2" ry="7.9" transform="rotate(73 9.9 -43.4)" fill="url(#k5)"/><ellipse cx="7.9" cy="-81.5" rx="11.8" ry="8.0" transform="rotate(143 7.9 -81.5)" fill="#2e1c0c" opacity=".7"/><ellipse cx="7.1" cy="-83.1" rx="10.9" ry="7.1" transform="rotate(143 7.1 -83.1)" fill="url(#k4)"/><ellipse cx="-29.7" cy="6.8" rx="11.9" ry="7.7" transform="rotate(117 -29.7 6.8)" fill="#2e1c0c" opacity=".7"/><ellipse cx="-30.5" cy="5.2" rx="11.0" ry="6.8" transform="rotate(117 -30.5 5.2)" fill="url(#k4)"/><ellipse cx="52.0" cy="24.0" rx="11.2" ry="10.4" transform="rotate(90 52.0 24.0)" fill="#2e1c0c" opacity=".7"/><ellipse cx="51.2" cy="22.4" rx="10.3" ry="9.5" transform="rotate(90 51.2 22.4)" fill="url(#k4)"/><ellipse cx="2.9" cy="20.1" rx="12.0" ry="10.9" transform="rotate(155 2.9 20.1)" fill="#2e1c0c" opacity=".7"/><ellipse cx="2.1" cy="18.5" rx="11.1" ry="10.0" transform="rotate(155 2.1 18.5)" fill="url(#k5)"/><ellipse cx="6.9" cy="91.3" rx="11.1" ry="11.4" transform="rotate(3 6.9 91.3)" fill="#2e1c0c" opacity=".7"/><ellipse cx="6.1" cy="89.7" rx="10.2" ry="10.5" transform="rotate(3 6.1 89.7)" fill="url(#k5)"/><ellipse cx="19.2" cy="-20.1" rx="11.7" ry="8.5" transform="rotate(20 19.2 -20.1)" fill="#2e1c0c" opacity=".7"/><ellipse cx="18.4" cy="-21.7" rx="10.8" ry="7.6" transform="rotate(20 18.4 -21.7)" fill="url(#k4)"/><ellipse cx="47.5" cy="-60.6" rx="11.1" ry="8.8" transform="rotate(121 47.5 -60.6)" fill="#2e1c0c" opacity=".7"/><ellipse cx="46.7" cy="-62.2" rx="10.2" ry="7.9" transform="rotate(121 46.7 -62.2)" fill="url(#k5)"/><ellipse cx="68.1" cy="66.7" rx="12.1" ry="11.0" transform="rotate(149 68.1 66.7)" fill="#2e1c0c" opacity=".7"/><ellipse cx="67.3" cy="65.1" rx="11.2" ry="10.1" transform="rotate(149 67.3 65.1)" fill="url(#k4)"/><ellipse cx="13.8" cy="81.8" rx="11.9" ry="10.9" transform="rotate(87 13.8 81.8)" fill="#2e1c0c" opacity=".7"/><ellipse cx="13.0" cy="80.2" rx="11.0" ry="10.0" transform="rotate(87 13.0 80.2)" fill="url(#k4)"/><ellipse cx="-24.9" cy="17.4" rx="12.4" ry="10.1" transform="rotate(173 -24.9 17.4)" fill="#2e1c0c" opacity=".7"/><ellipse cx="-25.7" cy="15.8" rx="11.5" ry="9.2" transform="rotate(173 -25.7 15.8)" fill="url(#k4)"/><ellipse cx="17.4" cy="-60.2" rx="11.3" ry="7.8" transform="rotate(29 17.4 -60.2)" fill="#2e1c0c" opacity=".7"/><ellipse cx="16.6" cy="-61.8" rx="10.4" ry="6.9" transform="rotate(29 16.6 -61.8)" fill="url(#k5)"/><ellipse cx="58.5" cy="0.6" rx="11.6" ry="11.4" transform="rotate(52 58.5 0.6)" fill="#2e1c0c" opacity=".7"/><ellipse cx="57.7" cy="-1.0" rx="10.7" ry="10.5" transform="rotate(52 57.7 -1.0)" fill="url(#k4)"/><ellipse cx="-87.9" cy="25.4" rx="11.5" ry="8.0" transform="rotate(61 -87.9 25.4)" fill="#2e1c0c" opacity=".7"/><ellipse cx="-88.7" cy="23.8" rx="10.6" ry="7.1" transform="rotate(61 -88.7 23.8)" fill="url(#k4)"/><ellipse cx="-10.3" cy="46.8" rx="11.3" ry="7.6" transform="rotate(18 -10.3 46.8)" fill="#2e1c0c" opacity=".7"/><ellipse cx="-11.1" cy="45.2" rx="10.4" ry="6.7" transform="rotate(18 -11.1 45.2)" fill="url(#k4)"/><ellipse cx="-68.6" cy="29.0" rx="11.9" ry="11.2" transform="rotate(138 -68.6 29.0)" fill="#2e1c0c" opacity=".7"/><ellipse cx="-69.4" cy="27.4" rx="11.0" ry="10.3" transform="rotate(138 -69.4 27.4)" fill="url(#k5)"/><ellipse cx="-73.1" cy="-54.0" rx="10.9" ry="10.6" transform="rotate(32 -73.1 -54.0)" fill="#2e1c0c" opacity=".7"/><ellipse cx="-73.9" cy="-55.6" rx="10.0" ry="9.7" transform="rotate(32 -73.9 -55.6)" fill="url(#k4)"/><ellipse cx="56.9" cy="58.5" rx="11.5" ry="8.8" transform="rotate(11 56.9 58.5)" fill="#2e1c0c" opacity=".7"/><ellipse cx="56.1" cy="56.9" rx="10.6" ry="7.9" transform="rotate(11 56.1 56.9)" fill="url(#k5)"/><ellipse cx="-18.7" cy="77.4" rx="11.6" ry="9.2" transform="rotate(79 -18.7 77.4)" fill="#2e1c0c" opacity=".7"/><ellipse cx="-19.5" cy="75.8" rx="10.7" ry="8.3" transform="rotate(79 -19.5 75.8)" fill="url(#k4)"/><ellipse cx="45.8" cy="-1.4" rx="11.7" ry="10.0" transform="rotate(110 45.8 -1.4)" fill="#2e1c0c" opacity=".7"/><ellipse cx="45.0" cy="-3.0" rx="10.8" ry="9.1" transform="rotate(110 45.0 -3.0)" fill="url(#k4)"/><ellipse cx="-66.5" cy="-17.5" rx="12.0" ry="11.6" transform="rotate(22 -66.5 -17.5)" fill="#2e1c0c" opacity=".7"/><ellipse cx="-67.3" cy="-19.1" rx="11.1" ry="10.7" transform="rotate(22 -67.3 -19.1)" fill="url(#k4)"/><ellipse cx="-41.6" cy="-54.0" rx="12.3" ry="8.7" transform="rotate(166 -41.6 -54.0)" fill="#2e1c0c" opacity=".7"/><ellipse cx="-42.4" cy="-55.6" rx="11.4" ry="7.8" transform="rotate(166 -42.4 -55.6)" fill="url(#k5)"/><ellipse cx="-63.5" cy="-43.8" rx="12.1" ry="9.2" transform="rotate(131 -63.5 -43.8)" fill="#2e1c0c" opacity=".7"/><ellipse cx="-64.3" cy="-45.4" rx="11.2" ry="8.3" transform="rotate(131 -64.3 -45.4)" fill="url(#k5)"/><ellipse cx="32.6" cy="-64.3" rx="11.6" ry="9.2" transform="rotate(15 32.6 -64.3)" fill="#2e1c0c" opacity=".7"/><ellipse cx="31.8" cy="-65.9" rx="10.7" ry="8.3" transform="rotate(15 31.8 -65.9)" fill="url(#k4)"/><ellipse cx="-30.1" cy="-33.0" rx="10.8" ry="8.4" transform="rotate(179 -30.1 -33.0)" fill="#2e1c0c" opacity=".7"/><ellipse cx="-30.9" cy="-34.6" rx="9.9" ry="7.5" transform="rotate(179 -30.9 -34.6)" fill="url(#k4)"/><ellipse cx="-76.9" cy="51.8" rx="11.9" ry="11.1" transform="rotate(50 -76.9 51.8)" fill="#2e1c0c" opacity=".7"/><ellipse cx="-77.7" cy="50.2" rx="11.0" ry="10.2" transform="rotate(50 -77.7 50.2)" fill="url(#k4)"/><ellipse cx="-50.7" cy="27.9" rx="11.9" ry="10.5" transform="rotate(126 -50.7 27.9)" fill="#2e1c0c" opacity=".7"/><ellipse cx="-51.5" cy="26.3" rx="11.0" ry="9.6" transform="rotate(126 -51.5 26.3)" fill="url(#k5)"/><ellipse cx="-37.3" cy="46.7" rx="10.7" ry="9.9" transform="rotate(1 -37.3 46.7)" fill="#2e1c0c" opacity=".7"/><ellipse cx="-38.1" cy="45.1" rx="9.8" ry="9.0" transform="rotate(1 -38.1 45.1)" fill="url(#k4)"/><ellipse cx="-86.2" cy="37.1" rx="11.0" ry="8.0" transform="rotate(77 -86.2 37.1)" fill="#2e1c0c" opacity=".7"/><ellipse cx="-87.0" cy="35.5" rx="10.1" ry="7.1" transform="rotate(77 -87.0 35.5)" fill="url(#k4)"/><ellipse cx="31.7" cy="-87.3" rx="11.2" ry="9.0" transform="rotate(61 31.7 -87.3)" fill="#2e1c0c" opacity=".7"/><ellipse cx="30.9" cy="-88.9" rx="10.3" ry="8.1" transform="rotate(61 30.9 -88.9)" fill="url(#k5)"/><ellipse cx="48.6" cy="49.7" rx="11.2" ry="9.9" transform="rotate(83 48.6 49.7)" fill="#2e1c0c" opacity=".7"/><ellipse cx="47.8" cy="48.1" rx="10.3" ry="9.0" transform="rotate(83 47.8 48.1)" fill="url(#k4)"/><ellipse cx="71.4" cy="-59.2" rx="11.6" ry="10.1" transform="rotate(165 71.4 -59.2)" fill="#2e1c0c" opacity=".7"/><ellipse cx="70.6" cy="-60.8" rx="10.7" ry="9.2" transform="rotate(165 70.6 -60.8)" fill="url(#k5)"/><ellipse cx="42.6" cy="-32.2" rx="11.3" ry="10.8" transform="rotate(121 42.6 -32.2)" fill="#2e1c0c" opacity=".7"/><ellipse cx="41.8" cy="-33.8" rx="10.4" ry="9.9" transform="rotate(121 41.8 -33.8)" fill="url(#k5)"/><ellipse cx="-39.5" cy="86.6" rx="11.0" ry="11.2" transform="rotate(38 -39.5 86.6)" fill="#2e1c0c" opacity=".7"/><ellipse cx="-40.3" cy="85.0" rx="10.1" ry="10.3" transform="rotate(38 -40.3 85.0)" fill="url(#k5)"/><ellipse cx="-16.8" cy="-90.7" rx="12.0" ry="8.0" transform="rotate(57 -16.8 -90.7)" fill="#2e1c0c" opacity=".7"/><ellipse cx="-17.6" cy="-92.3" rx="11.1" ry="7.1" transform="rotate(57 -17.6 -92.3)" fill="url(#k4)"/><ellipse cx="3.6" cy="-92.6" rx="11.1" ry="9.1" transform="rotate(151 3.6 -92.6)" fill="#2e1c0c" opacity=".7"/><ellipse cx="2.8" cy="-94.2" rx="10.2" ry="8.2" transform="rotate(151 2.8 -94.2)" fill="url(#k4)"/><ellipse cx="-21.3" cy="-69.0" rx="10.9" ry="9.8" transform="rotate(57 -21.3 -69.0)" fill="#2e1c0c" opacity=".7"/><ellipse cx="-22.1" cy="-70.6" rx="10.0" ry="8.9" transform="rotate(57 -22.1 -70.6)" fill="url(#k3)"/><ellipse cx="81.8" cy="15.8" rx="11.9" ry="8.0" transform="rotate(67 81.8 15.8)" fill="#2e1c0c" opacity=".7"/><ellipse cx="81.0" cy="14.2" rx="11.0" ry="7.1" transform="rotate(67 81.0 14.2)" fill="url(#k1)"/><ellipse cx="43.1" cy="12.9" rx="12.3" ry="8.8" transform="rotate(25 43.1 12.9)" fill="#2e1c0c" opacity=".7"/><ellipse cx="42.3" cy="11.3" rx="11.4" ry="7.9" transform="rotate(25 42.3 11.3)" fill="url(#k3)"/><ellipse cx="-19.6" cy="61.0" rx="11.3" ry="7.7" transform="rotate(110 -19.6 61.0)" fill="#2e1c0c" opacity=".7"/><ellipse cx="-20.4" cy="59.4" rx="10.4" ry="6.8" transform="rotate(110 -20.4 59.4)" fill="url(#k2)"/><ellipse cx="33.6" cy="41.2" rx="11.7" ry="10.0" transform="rotate(88 33.6 41.2)" fill="#2e1c0c" opacity=".7"/><ellipse cx="32.8" cy="39.6" rx="10.8" ry="9.1" transform="rotate(88 32.8 39.6)" fill="url(#k2)"/><ellipse cx="-15.9" cy="26.4" rx="11.8" ry="8.3" transform="rotate(97 -15.9 26.4)" fill="#2e1c0c" opacity=".7"/><ellipse cx="-16.7" cy="24.8" rx="10.9" ry="7.4" transform="rotate(97 -16.7 24.8)" fill="url(#k2)"/><ellipse cx="5.9" cy="-13.1" rx="11.5" ry="7.8" transform="rotate(158 5.9 -13.1)" fill="#2e1c0c" opacity=".7"/><ellipse cx="5.1" cy="-14.7" rx="10.6" ry="6.9" transform="rotate(158 5.1 -14.7)" fill="url(#k3)"/><ellipse cx="26.2" cy="81.7" rx="11.8" ry="7.6" transform="rotate(127 26.2 81.7)" fill="#2e1c0c" opacity=".7"/><ellipse cx="25.4" cy="80.1" rx="10.9" ry="6.7" transform="rotate(127 25.4 80.1)" fill="url(#k1)"/><ellipse cx="-70.8" cy="50.1" rx="11.3" ry="8.4" transform="rotate(82 -70.8 50.1)" fill="#2e1c0c" opacity=".7"/><ellipse cx="-71.6" cy="48.5" rx="10.4" ry="7.5" transform="rotate(82 -71.6 48.5)" fill="url(#k2)"/><ellipse cx="-54.9" cy="-8.0" rx="11.8" ry="11.3" transform="rotate(31 -54.9 -8.0)" fill="#2e1c0c" opacity=".7"/><ellipse cx="-55.7" cy="-9.6" rx="10.9" ry="10.4" transform="rotate(31 -55.7 -9.6)" fill="url(#k3)"/><ellipse cx="19.2" cy="-59.0" rx="12.1" ry="10.4" transform="rotate(45 19.2 -59.0)" fill="#2e1c0c" opacity=".7"/><ellipse cx="18.4" cy="-60.6" rx="11.2" ry="9.5" transform="rotate(45 18.4 -60.6)" fill="url(#k1)"/><ellipse cx="-46.9" cy="68.0" rx="11.5" ry="10.2" transform="rotate(36 -46.9 68.0)" fill="#2e1c0c" opacity=".7"/><ellipse cx="-47.7" cy="66.4" rx="10.6" ry="9.3" transform="rotate(36 -47.7 66.4)" fill="url(#k3)"/><ellipse cx="-62.0" cy="-43.3" rx="11.6" ry="7.8" transform="rotate(84 -62.0 -43.3)" fill="#2e1c0c" opacity=".7"/><ellipse cx="-62.8" cy="-44.9" rx="10.7" ry="6.9" transform="rotate(84 -62.8 -44.9)" fill="url(#k1)"/><ellipse cx="52.7" cy="-57.7" rx="10.7" ry="11.1" transform="rotate(29 52.7 -57.7)" fill="#2e1c0c" opacity=".7"/><ellipse cx="51.9" cy="-59.3" rx="9.8" ry="10.2" transform="rotate(29 51.9 -59.3)" fill="url(#k1)"/><ellipse cx="-51.8" cy="-69.9" rx="11.2" ry="7.6" transform="rotate(106 -51.8 -69.9)" fill="#2e1c0c" opacity=".7"/><ellipse cx="-52.6" cy="-71.5" rx="10.3" ry="6.7" transform="rotate(106 -52.6 -71.5)" fill="url(#k1)"/><ellipse cx="-34.8" cy="-40.4" rx="11.2" ry="8.6" transform="rotate(51 -34.8 -40.4)" fill="#2e1c0c" opacity=".7"/><ellipse cx="-35.6" cy="-42.0" rx="10.3" ry="7.7" transform="rotate(51 -35.6 -42.0)" fill="url(#k3)"/><ellipse cx="27.1" cy="-30.0" rx="11.6" ry="8.8" transform="rotate(53 27.1 -30.0)" fill="#2e1c0c" opacity=".7"/><ellipse cx="26.3" cy="-31.6" rx="10.7" ry="7.9" transform="rotate(53 26.3 -31.6)" fill="url(#k3)"/><ellipse cx="-72.6" cy="16.6" rx="11.0" ry="11.2" transform="rotate(42 -72.6 16.6)" fill="#2e1c0c" opacity=".7"/><ellipse cx="-73.4" cy="15.0" rx="10.1" ry="10.3" transform="rotate(42 -73.4 15.0)" fill="url(#k2)"/><ellipse cx="57.7" cy="51.1" rx="11.0" ry="8.7" transform="rotate(46 57.7 51.1)" fill="#2e1c0c" opacity=".7"/><ellipse cx="56.9" cy="49.5" rx="10.1" ry="7.8" transform="rotate(46 56.9 49.5)" fill="url(#k2)"/><ellipse cx="-34.5" cy="10.9" rx="12.4" ry="10.4" transform="rotate(52 -34.5 10.9)" fill="#2e1c0c" opacity=".7"/><ellipse cx="-35.3" cy="9.3" rx="11.5" ry="9.5" transform="rotate(52 -35.3 9.3)" fill="url(#k1)"/><ellipse cx="-13.9" cy="-26.8" rx="11.0" ry="7.6" transform="rotate(64 -13.9 -26.8)" fill="#2e1c0c" opacity=".7"/><ellipse cx="-14.7" cy="-28.4" rx="10.1" ry="6.7" transform="rotate(64 -14.7 -28.4)" fill="url(#k3)"/><ellipse cx="35.3" cy="-77.0" rx="12.1" ry="8.8" transform="rotate(179 35.3 -77.0)" fill="#2e1c0c" opacity=".7"/><ellipse cx="34.5" cy="-78.6" rx="11.2" ry="7.9" transform="rotate(179 34.5 -78.6)" fill="url(#k1)"/><ellipse cx="72.1" cy="-14.0" rx="11.3" ry="11.0" transform="rotate(105 72.1 -14.0)" fill="#2e1c0c" opacity=".7"/><ellipse cx="71.3" cy="-15.6" rx="10.4" ry="10.1" transform="rotate(105 71.3 -15.6)" fill="url(#k2)"/><ellipse cx="-40.2" cy="-41.1" rx="11.2" ry="8.1" transform="rotate(135 -40.2 -41.1)" fill="#2e1c0c" opacity=".7"/><ellipse cx="-41.0" cy="-42.7" rx="10.3" ry="7.2" transform="rotate(135 -41.0 -42.7)" fill="url(#k1)"/><ellipse cx="38.3" cy="-72.3" rx="11.2" ry="9.0" transform="rotate(145 38.3 -72.3)" fill="#2e1c0c" opacity=".7"/><ellipse cx="37.5" cy="-73.9" rx="10.3" ry="8.1" transform="rotate(145 37.5 -73.9)" fill="url(#k1)"/><ellipse cx="-68.1" cy="-37.9" rx="11.5" ry="10.0" transform="rotate(161 -68.1 -37.9)" fill="#2e1c0c" opacity=".7"/><ellipse cx="-68.9" cy="-39.5" rx="10.6" ry="9.1" transform="rotate(161 -68.9 -39.5)" fill="url(#k1)"/><ellipse cx="47.2" cy="51.9" rx="11.9" ry="10.6" transform="rotate(1 47.2 51.9)" fill="#2e1c0c" opacity=".7"/><ellipse cx="46.4" cy="50.3" rx="11.0" ry="9.7" transform="rotate(1 46.4 50.3)" fill="url(#k3)"/><ellipse cx="37.0" cy="1.0" rx="10.8" ry="10.0" transform="rotate(8 37.0 1.0)" fill="#2e1c0c" opacity=".7"/><ellipse cx="36.2" cy="-0.6" rx="9.9" ry="9.1" transform="rotate(8 36.2 -0.6)" fill="url(#k3)"/><ellipse cx="53.9" cy="35.4" rx="12.0" ry="9.9" transform="rotate(81 53.9 35.4)" fill="#2e1c0c" opacity=".7"/><ellipse cx="53.1" cy="33.8" rx="11.1" ry="9.0" transform="rotate(81 53.1 33.8)" fill="url(#k3)"/><ellipse cx="37.1" cy="31.8" rx="10.8" ry="8.0" transform="rotate(63 37.1 31.8)" fill="#2e1c0c" opacity=".7"/><ellipse cx="36.3" cy="30.2" rx="9.9" ry="7.1" transform="rotate(63 36.3 30.2)" fill="url(#k1)"/><ellipse cx="74.5" cy="45.7" rx="11.1" ry="9.0" transform="rotate(13 74.5 45.7)" fill="#2e1c0c" opacity=".7"/><ellipse cx="73.7" cy="44.1" rx="10.2" ry="8.1" transform="rotate(13 73.7 44.1)" fill="url(#k3)"/><ellipse cx="25.1" cy="-10.6" rx="12.0" ry="10.6" transform="rotate(70 25.1 -10.6)" fill="#2e1c0c" opacity=".7"/><ellipse cx="24.3" cy="-12.2" rx="11.1" ry="9.7" transform="rotate(70 24.3 -12.2)" fill="url(#k3)"/><ellipse cx="-6.4" cy="-90.3" rx="11.9" ry="10.5" transform="rotate(153 -6.4 -90.3)" fill="#2e1c0c" opacity=".7"/><ellipse cx="-7.2" cy="-91.9" rx="11.0" ry="9.6" transform="rotate(153 -7.2 -91.9)" fill="url(#k3)"/><ellipse cx="19.2" cy="41.4" rx="11.4" ry="10.7" transform="rotate(36 19.2 41.4)" fill="#2e1c0c" opacity=".7"/><ellipse cx="18.4" cy="39.8" rx="10.5" ry="9.8" transform="rotate(36 18.4 39.8)" fill="url(#k3)"/><ellipse cx="-72.4" cy="32.0" rx="10.8" ry="11.1" transform="rotate(100 -72.4 32.0)" fill="#2e1c0c" opacity=".7"/><ellipse cx="-73.2" cy="30.4" rx="9.9" ry="10.2" transform="rotate(100 -73.2 30.4)" fill="url(#k3)"/><ellipse cx="3.0" cy="-0.6" rx="12.1" ry="10.6" transform="rotate(131 3.0 -0.6)" fill="#2e1c0c" opacity=".7"/><ellipse cx="2.2" cy="-2.2" rx="11.2" ry="9.7" transform="rotate(131 2.2 -2.2)" fill="url(#k2)"/><ellipse cx="-45.7" cy="-21.0" rx="10.7" ry="10.3" transform="rotate(168 -45.7 -21.0)" fill="#2e1c0c" opacity=".7"/><ellipse cx="-46.5" cy="-22.6" rx="9.8" ry="9.4" transform="rotate(168 -46.5 -22.6)" fill="url(#k2)"/><ellipse cx="-13.7" cy="-35.1" rx="12.4" ry="8.6" transform="rotate(131 -13.7 -35.1)" fill="#2e1c0c" opacity=".7"/><ellipse cx="-14.5" cy="-36.7" rx="11.5" ry="7.7" transform="rotate(131 -14.5 -36.7)" fill="url(#k3)"/><ellipse cx="-67.9" cy="48.1" rx="11.3" ry="7.6" transform="rotate(34 -67.9 48.1)" fill="#2e1c0c" opacity=".7"/><ellipse cx="-68.7" cy="46.5" rx="10.4" ry="6.7" transform="rotate(34 -68.7 46.5)" fill="url(#k2)"/><ellipse cx="-34.7" cy="-63.7" rx="12.1" ry="9.2" transform="rotate(44 -34.7 -63.7)" fill="#2e1c0c" opacity=".7"/><ellipse cx="-35.5" cy="-65.3" rx="11.2" ry="8.3" transform="rotate(44 -35.5 -65.3)" fill="url(#k1)"/><ellipse cx="-40.5" cy="-79.8" rx="10.7" ry="9.8" transform="rotate(31 -40.5 -79.8)" fill="#2e1c0c" opacity=".7"/><ellipse cx="-41.3" cy="-81.4" rx="9.8" ry="8.9" transform="rotate(31 -41.3 -81.4)" fill="url(#k2)"/><ellipse cx="-25.5" cy="87.1" rx="11.9" ry="8.2" transform="rotate(155 -25.5 87.1)" fill="#2e1c0c" opacity=".7"/><ellipse cx="-26.3" cy="85.5" rx="11.0" ry="7.3" transform="rotate(155 -26.3 85.5)" fill="url(#k3)"/><ellipse cx="48.7" cy="-37.1" rx="11.0" ry="9.9" transform="rotate(164 48.7 -37.1)" fill="#2e1c0c" opacity=".7"/><ellipse cx="47.9" cy="-38.7" rx="10.1" ry="9.0" transform="rotate(164 47.9 -38.7)" fill="url(#k3)"/><ellipse cx="-43.6" cy="-4.5" rx="11.2" ry="10.1" transform="rotate(147 -43.6 -4.5)" fill="#2e1c0c" opacity=".7"/><ellipse cx="-44.4" cy="-6.1" rx="10.3" ry="9.2" transform="rotate(147 -44.4 -6.1)" fill="url(#k1)"/><ellipse cx="-50.7" cy="47.6" rx="11.5" ry="10.0" transform="rotate(28 -50.7 47.6)" fill="#2e1c0c" opacity=".7"/><ellipse cx="-51.5" cy="46.0" rx="10.6" ry="9.1" transform="rotate(28 -51.5 46.0)" fill="url(#k1)"/><ellipse cx="-80.4" cy="15.9" rx="11.6" ry="10.6" transform="rotate(127 -80.4 15.9)" fill="#2e1c0c" opacity=".7"/><ellipse cx="-81.2" cy="14.3" rx="10.7" ry="9.7" transform="rotate(127 -81.2 14.3)" fill="url(#k2)"/><ellipse cx="-69.4" cy="-1.8" rx="12.1" ry="10.7" transform="rotate(28 -69.4 -1.8)" fill="#2e1c0c" opacity=".7"/><ellipse cx="-70.2" cy="-3.4" rx="11.2" ry="9.8" transform="rotate(28 -70.2 -3.4)" fill="url(#k3)"/><ellipse cx="3.1" cy="-59.1" rx="12.2" ry="8.2" transform="rotate(179 3.1 -59.1)" fill="#2e1c0c" opacity=".7"/><ellipse cx="2.3" cy="-60.7" rx="11.3" ry="7.3" transform="rotate(179 2.3 -60.7)" fill="url(#k2)"/><ellipse cx="56.3" cy="65.8" rx="12.1" ry="11.5" transform="rotate(83 56.3 65.8)" fill="#2e1c0c" opacity=".7"/><ellipse cx="55.5" cy="64.2" rx="11.2" ry="10.6" transform="rotate(83 55.5 64.2)" fill="url(#k3)"/><ellipse cx="75.9" cy="-30.3" rx="11.0" ry="10.4" transform="rotate(146 75.9 -30.3)" fill="#2e1c0c" opacity=".7"/><ellipse cx="75.1" cy="-31.9" rx="10.1" ry="9.5" transform="rotate(146 75.1 -31.9)" fill="url(#k2)"/><ellipse cx="58.3" cy="-22.5" rx="11.7" ry="8.6" transform="rotate(36 58.3 -22.5)" fill="#2e1c0c" opacity=".7"/><ellipse cx="57.5" cy="-24.1" rx="10.8" ry="7.7" transform="rotate(36 57.5 -24.1)" fill="url(#k2)"/><ellipse cx="-16.6" cy="-58.6" rx="12.4" ry="9.2" transform="rotate(131 -16.6 -58.6)" fill="#2e1c0c" opacity=".7"/><ellipse cx="-17.4" cy="-60.2" rx="11.5" ry="8.3" transform="rotate(131 -17.4 -60.2)" fill="url(#k1)"/><ellipse cx="12.4" cy="26.1" rx="11.4" ry="11.1" transform="rotate(10 12.4 26.1)" fill="#2e1c0c" opacity=".7"/><ellipse cx="11.6" cy="24.5" rx="10.5" ry="10.2" transform="rotate(10 11.6 24.5)" fill="url(#k3)"/><ellipse cx="-26.9" cy="-3.0" rx="12.0" ry="8.7" transform="rotate(156 -26.9 -3.0)" fill="#2e1c0c" opacity=".7"/><ellipse cx="-27.7" cy="-4.6" rx="11.1" ry="7.8" transform="rotate(156 -27.7 -4.6)" fill="url(#k3)"/><ellipse cx="-52.7" cy="-68.7" rx="11.4" ry="9.2" transform="rotate(81 -52.7 -68.7)" fill="#2e1c0c" opacity=".7"/><ellipse cx="-53.5" cy="-70.3" rx="10.5" ry="8.3" transform="rotate(81 -53.5 -70.3)" fill="url(#k1)"/><ellipse cx="-39.2" cy="33.2" rx="11.9" ry="10.6" transform="rotate(166 -39.2 33.2)" fill="#2e1c0c" opacity=".7"/><ellipse cx="-40.0" cy="31.6" rx="11.0" ry="9.7" transform="rotate(166 -40.0 31.6)" fill="url(#k1)"/><ellipse cx="8.2" cy="-82.0" rx="11.7" ry="11.3" transform="rotate(124 8.2 -82.0)" fill="#2e1c0c" opacity=".7"/><ellipse cx="7.4" cy="-83.6" rx="10.8" ry="10.4" transform="rotate(124 7.4 -83.6)" fill="url(#k2)"/><ellipse cx="-5.1" cy="34.3" rx="11.2" ry="10.3" transform="rotate(170 -5.1 34.3)" fill="#2e1c0c" opacity=".7"/><ellipse cx="-5.9" cy="32.7" rx="10.3" ry="9.4" transform="rotate(170 -5.9 32.7)" fill="url(#k3)"/><ellipse cx="-38.7" cy="60.6" rx="12.2" ry="10.3" transform="rotate(36 -38.7 60.6)" fill="#2e1c0c" opacity=".7"/><ellipse cx="-39.5" cy="59.0" rx="11.3" ry="9.4" transform="rotate(36 -39.5 59.0)" fill="url(#k1)"/><ellipse cx="24.4" cy="-86.8" rx="12.0" ry="9.8" transform="rotate(42 24.4 -86.8)" fill="#2e1c0c" opacity=".7"/><ellipse cx="23.6" cy="-88.4" rx="11.1" ry="8.9" transform="rotate(42 23.6 -88.4)" fill="url(#k1)"/><ellipse cx="20.6" cy="84.2" rx="11.2" ry="8.7" transform="rotate(170 20.6 84.2)" fill="#2e1c0c" opacity=".7"/><ellipse cx="19.8" cy="82.6" rx="10.3" ry="7.8" transform="rotate(170 19.8 82.6)" fill="url(#k3)"/><ellipse cx="-42.3" cy="81.1" rx="10.9" ry="8.5" transform="rotate(131 -42.3 81.1)" fill="#2e1c0c" opacity=".7"/><ellipse cx="-43.1" cy="79.5" rx="10.0" ry="7.6" transform="rotate(131 -43.1 79.5)" fill="url(#k2)"/><ellipse cx="29.2" cy="58.5" rx="12.3" ry="11.1" transform="rotate(63 29.2 58.5)" fill="#2e1c0c" opacity=".7"/><ellipse cx="28.4" cy="56.9" rx="11.4" ry="10.2" transform="rotate(63 28.4 56.9)" fill="url(#k3)"/><ellipse cx="-12.6" cy="77.1" rx="12.0" ry="11.0" transform="rotate(30 -12.6 77.1)" fill="#2e1c0c" opacity=".7"/><ellipse cx="-13.4" cy="75.5" rx="11.1" ry="10.1" transform="rotate(30 -13.4 75.5)" fill="url(#k3)"/><ellipse cx="-73.6" cy="-19.4" rx="12.1" ry="7.5" transform="rotate(170 -73.6 -19.4)" fill="#2e1c0c" opacity=".7"/><ellipse cx="-74.4" cy="-21.0" rx="11.2" ry="6.6" transform="rotate(170 -74.4 -21.0)" fill="url(#k1)"/><ellipse cx="-86.3" cy="-1.9" rx="12.2" ry="7.6" transform="rotate(130 -86.3 -1.9)" fill="#2e1c0c" opacity=".7"/><ellipse cx="-87.1" cy="-3.5" rx="11.3" ry="6.7" transform="rotate(130 -87.1 -3.5)" fill="url(#k3)"/><ellipse cx="48.4" cy="12.8" rx="12.0" ry="9.8" transform="rotate(9 48.4 12.8)" fill="#2e1c0c" opacity=".7"/><ellipse cx="47.6" cy="11.2" rx="11.1" ry="8.9" transform="rotate(9 47.6 11.2)" fill="url(#k3)"/><ellipse cx="-55.5" cy="18.3" rx="11.9" ry="8.3" transform="rotate(40 -55.5 18.3)" fill="#2e1c0c" opacity=".7"/><ellipse cx="-56.3" cy="16.7" rx="11.0" ry="7.4" transform="rotate(40 -56.3 16.7)" fill="url(#k1)"/><ellipse cx="29.5" cy="-38.3" rx="12.1" ry="10.3" transform="rotate(74 29.5 -38.3)" fill="#2e1c0c" opacity=".7"/><ellipse cx="28.7" cy="-39.9" rx="11.2" ry="9.4" transform="rotate(74 28.7 -39.9)" fill="url(#k2)"/><ellipse cx="17.6" cy="-50.3" rx="11.5" ry="8.5" transform="rotate(122 17.6 -50.3)" fill="#2e1c0c" opacity=".7"/><ellipse cx="16.8" cy="-51.9" rx="10.6" ry="7.6" transform="rotate(122 16.8 -51.9)" fill="url(#k3)"/><ellipse cx="34.7" cy="-53.9" rx="10.9" ry="8.6" transform="rotate(53 34.7 -53.9)" fill="#2e1c0c" opacity=".7"/><ellipse cx="33.9" cy="-55.5" rx="10.0" ry="7.7" transform="rotate(53 33.9 -55.5)" fill="url(#k3)"/><ellipse cx="64.2" cy="-46.3" rx="11.0" ry="8.9" transform="rotate(78 64.2 -46.3)" fill="#2e1c0c" opacity=".7"/><ellipse cx="63.4" cy="-47.9" rx="10.1" ry="8.0" transform="rotate(78 63.4 -47.9)" fill="url(#k3)"/><ellipse cx="90.5" cy="-5.5" rx="11.7" ry="7.8" transform="rotate(65 90.5 -5.5)" fill="#2e1c0c" opacity=".7"/><ellipse cx="89.7" cy="-7.1" rx="10.8" ry="6.9" transform="rotate(65 89.7 -7.1)" fill="url(#k2)"/><ellipse cx="22.3" cy="-68.5" rx="10.9" ry="10.2" transform="rotate(21 22.3 -68.5)" fill="#2e1c0c" opacity=".7"/><ellipse cx="21.5" cy="-70.1" rx="10.0" ry="9.3" transform="rotate(21 21.5 -70.1)" fill="url(#k3)"/><ellipse cx="-85.4" cy="-31.6" rx="11.1" ry="11.1" transform="rotate(84 -85.4 -31.6)" fill="#2e1c0c" opacity=".7"/><ellipse cx="-86.2" cy="-33.2" rx="10.2" ry="10.2" transform="rotate(84 -86.2 -33.2)" fill="url(#k1)"/><ellipse cx="54.0" cy="-58.9" rx="10.8" ry="10.3" transform="rotate(6 54.0 -58.9)" fill="#2e1c0c" opacity=".7"/><ellipse cx="53.2" cy="-60.5" rx="9.9" ry="9.4" transform="rotate(6 53.2 -60.5)" fill="url(#k1)"/><ellipse cx="-36.9" cy="15.1" rx="11.9" ry="11.2" transform="rotate(129 -36.9 15.1)" fill="#2e1c0c" opacity=".7"/><ellipse cx="-37.7" cy="13.5" rx="11.0" ry="10.3" transform="rotate(129 -37.7 13.5)" fill="url(#k3)"/><ellipse cx="-19.1" cy="42.9" rx="10.8" ry="8.6" transform="rotate(111 -19.1 42.9)" fill="#2e1c0c" opacity=".7"/><ellipse cx="-19.9" cy="41.3" rx="9.9" ry="7.7" transform="rotate(111 -19.9 41.3)" fill="url(#k2)"/><ellipse cx="-21.2" cy="-80.8" rx="12.0" ry="7.8" transform="rotate(46 -21.2 -80.8)" fill="#2e1c0c" opacity=".7"/><ellipse cx="-22.0" cy="-82.4" rx="11.1" ry="6.9" transform="rotate(46 -22.0 -82.4)" fill="url(#k2)"/><ellipse cx="62.1" cy="2.4" rx="10.7" ry="10.2" transform="rotate(97 62.1 2.4)" fill="#2e1c0c" opacity=".7"/><ellipse cx="61.3" cy="0.8" rx="9.8" ry="9.3" transform="rotate(97 61.3 0.8)" fill="url(#k2)"/><ellipse cx="42.5" cy="-17.3" rx="10.7" ry="8.4" transform="rotate(69 42.5 -17.3)" fill="#2e1c0c" opacity=".7"/><ellipse cx="41.7" cy="-18.9" rx="9.8" ry="7.5" transform="rotate(69 41.7 -18.9)" fill="url(#k1)"/><ellipse cx="6.9" cy="72.0" rx="11.1" ry="10.0" transform="rotate(74 6.9 72.0)" fill="#2e1c0c" opacity=".7"/><ellipse cx="6.1" cy="70.4" rx="10.2" ry="9.1" transform="rotate(74 6.1 70.4)" fill="url(#k2)"/><ellipse cx="7.5" cy="54.8" rx="11.3" ry="10.4" transform="rotate(127 7.5 54.8)" fill="#2e1c0c" opacity=".7"/><ellipse cx="6.7" cy="53.2" rx="10.4" ry="9.5" transform="rotate(127 6.7 53.2)" fill="url(#k2)"/><ellipse cx="36.8" cy="86.4" rx="11.1" ry="11.4" transform="rotate(97 36.8 86.4)" fill="#2e1c0c" opacity=".7"/><ellipse cx="36.0" cy="84.8" rx="10.2" ry="10.5" transform="rotate(97 36.0 84.8)" fill="url(#k3)"/><ellipse cx="-29.3" cy="-25.8" rx="12.0" ry="10.8" transform="rotate(2 -29.3 -25.8)" fill="#2e1c0c" opacity=".7"/><ellipse cx="-30.1" cy="-27.4" rx="11.1" ry="9.9" transform="rotate(2 -30.1 -27.4)" fill="url(#k3)"/><ellipse cx="-18.8" cy="22.6" rx="11.8" ry="9.9" transform="rotate(164 -18.8 22.6)" fill="#2e1c0c" opacity=".7"/><ellipse cx="-19.6" cy="21.0" rx="10.9" ry="9.0" transform="rotate(164 -19.6 21.0)" fill="url(#k2)"/><ellipse cx="73.8" cy="-10.9" rx="12.0" ry="8.4" transform="rotate(24 73.8 -10.9)" fill="#2e1c0c" opacity=".7"/><ellipse cx="73.0" cy="-12.5" rx="11.1" ry="7.5" transform="rotate(24 73.0 -12.5)" fill="url(#k1)"/><ellipse cx="88.0" cy="30.3" rx="10.7" ry="9.3" transform="rotate(78 88.0 30.3)" fill="#2e1c0c" opacity=".7"/><ellipse cx="87.2" cy="28.7" rx="9.8" ry="8.4" transform="rotate(78 87.2 28.7)" fill="url(#k3)"/><ellipse cx="-17.2" cy="60.3" rx="12.0" ry="11.4" transform="rotate(157 -17.2 60.3)" fill="#2e1c0c" opacity=".7"/><ellipse cx="-18.0" cy="58.7" rx="11.1" ry="10.5" transform="rotate(157 -18.0 58.7)" fill="url(#k3)"/><ellipse cx="69.2" cy="20.9" rx="11.7" ry="10.2" transform="rotate(112 69.2 20.9)" fill="#2e1c0c" opacity=".7"/><ellipse cx="68.4" cy="19.3" rx="10.8" ry="9.3" transform="rotate(112 68.4 19.3)" fill="url(#k3)"/><ellipse cx="23.0" cy="12.2" rx="11.5" ry="8.9" transform="rotate(155 23.0 12.2)" fill="#2e1c0c" opacity=".7"/><ellipse cx="22.2" cy="10.6" rx="10.6" ry="8.0" transform="rotate(155 22.2 10.6)" fill="url(#k2)"/><ellipse cx="-55.1" cy="-51.5" rx="11.8" ry="7.5" transform="rotate(157 -55.1 -51.5)" fill="#2e1c0c" opacity=".7"/><ellipse cx="-55.9" cy="-53.1" rx="10.9" ry="6.6" transform="rotate(157 -55.9 -53.1)" fill="url(#k3)"/><ellipse cx="-70.7" cy="-56.8" rx="12.0" ry="11.2" transform="rotate(137 -70.7 -56.8)" fill="#2e1c0c" opacity=".7"/><ellipse cx="-71.5" cy="-58.4" rx="11.1" ry="10.3" transform="rotate(137 -71.5 -58.4)" fill="url(#k2)"/><ellipse cx="11.0" cy="-19.2" rx="12.3" ry="11.2" transform="rotate(129 11.0 -19.2)" fill="#2e1c0c" opacity=".7"/><ellipse cx="10.2" cy="-20.8" rx="11.4" ry="10.3" transform="rotate(129 10.2 -20.8)" fill="url(#k1)"/><ellipse cx="81.5" cy="9.9" rx="11.3" ry="7.7" transform="rotate(12 81.5 9.9)" fill="#2e1c0c" opacity=".7"/><ellipse cx="80.7" cy="8.3" rx="10.4" ry="6.8" transform="rotate(12 80.7 8.3)" fill="url(#k3)"/><ellipse cx="-15.1" cy="-17.6" rx="11.7" ry="7.7" transform="rotate(152 -15.1 -17.6)" fill="#2e1c0c" opacity=".7"/><ellipse cx="-15.9" cy="-19.2" rx="10.8" ry="6.8" transform="rotate(152 -15.9 -19.2)" fill="url(#k2)"/><ellipse cx="-59.3" cy="64.3" rx="11.4" ry="8.9" transform="rotate(97 -59.3 64.3)" fill="#2e1c0c" opacity=".7"/><ellipse cx="-60.1" cy="62.7" rx="10.5" ry="8.0" transform="rotate(97 -60.1 62.7)" fill="url(#k2)"/><ellipse cx="2.2" cy="89.3" rx="11.6" ry="11.4" transform="rotate(31 2.2 89.3)" fill="#2e1c0c" opacity=".7"/><ellipse cx="1.4" cy="87.7" rx="10.7" ry="10.5" transform="rotate(31 1.4 87.7)" fill="url(#k2)"/><ellipse cx="-2.0" cy="16.6" rx="11.3" ry="10.8" transform="rotate(81 -2.0 16.6)" fill="#2e1c0c" opacity=".7"/><ellipse cx="-2.8" cy="15.0" rx="10.4" ry="9.9" transform="rotate(81 -2.8 15.0)" fill="url(#k1)"/><ellipse cx="3.1" cy="-36.5" rx="11.7" ry="10.7" transform="rotate(157 3.1 -36.5)" fill="#2e1c0c" opacity=".7"/><ellipse cx="2.3" cy="-38.1" rx="10.8" ry="9.8" transform="rotate(157 2.3 -38.1)" fill="url(#k2)"/></g></g>
<circle cx="0" cy="0" r="100.9" fill="url(#shade)"/>
</g>
<path id="ah" d="M0 0 L-10.3 -5.6 L-10.3 5.6 Z"/>
</defs>
<use href="#food" x="307.9" y="380.9"/><use href="#food" x="595" y="380.9"/><use href="#food" x="307.9" y="733.1"/><use href="#food" x="595" y="733.1"/><path d="M305 240 H452 V520 H165 V376.7 H305 Z" fill="#fff" opacity=".58"/><rect x="455" y="376.5" width="282" height="145" fill="#fff" opacity=".58"/><rect x="165" y="728.5" width="139.8" height="145" fill="#fff" opacity=".58"/><path d="M305 241 V376.7 H170" stroke="#0b4ea2" stroke-width="2.1" stroke-dasharray="8 1.6" fill="none"/><path d="M455 376.5 H732" stroke="#0b4ea2" stroke-width="2.1" stroke-dasharray="8 1.6" fill="none"/><path d="M169.5 728.5 H304.9 V871" stroke="#0b4ea2" stroke-width="2.1" stroke-dasharray="8 1.6" fill="none"/><path d="M188.7 363.9 A117 117 0 0 1 286.7 261.1" stroke="#0b4ea2" stroke-width="2.35" fill="none" stroke-linecap="round"/><use href="#ah" transform="translate(293.8 260.8) rotate(-3)" fill="#0b4ea2"/><path d="M478.7 363.7 A117 117 0 0 1 711.1 362.2" stroke="#0b4ea2" stroke-width="2.35" fill="none" stroke-linecap="round"/><use href="#ah" transform="translate(712.4 367.8) rotate(93)" fill="#0b4ea2"/><path d="M193.0 716.6 A117.25 117.25 0 1 1 323.8 845.9" stroke="#0b4ea2" stroke-width="2.35" fill="none" stroke-linecap="round"/><use href="#ah" transform="translate(315.0 846.7) rotate(183)" fill="#0b4ea2"/><text x="193.48" y="73.20" font-size="50.5" class="b" fill="#fff" stroke="#fff" stroke-width="2.4" textLength="170.84" lengthAdjust="spacingAndGlyphs">CÓMO</text><text x="379.49" y="73.20" font-size="50.5" class="b" fill="#fff" stroke="#fff" stroke-width="2.4" textLength="258.55" lengthAdjust="spacingAndGlyphs">CAMBIAR</text><text x="653.25" y="73.20" font-size="50.5" class="b" fill="#fff" stroke="#fff" stroke-width="2.4" textLength="66.44" lengthAdjust="spacingAndGlyphs">EL</text><text x="78.93" y="127.50" font-size="50.5" class="b" fill="#fff" stroke="#fff" stroke-width="2.4" textLength="289.62" lengthAdjust="spacingAndGlyphs">ALIMENTO</text><text x="383.98" y="127.50" font-size="50.5" class="b" fill="#fff" stroke="#fff" stroke-width="2.4" textLength="73.82" lengthAdjust="spacingAndGlyphs">DE</text><text x="474.50" y="127.50" font-size="50.5" class="b" fill="#fff" stroke="#fff" stroke-width="2.4" textLength="71.91" lengthAdjust="spacingAndGlyphs">TU</text><text x="560.57" y="127.50" font-size="50.5" class="b" fill="#fff" stroke="#fff" stroke-width="2.4" textLength="273.27" lengthAdjust="spacingAndGlyphs">MASCOTA</text><text x="219.52" y="224.00" font-size="33.9" class="b" fill="#0b4ea2" textLength="83.40" lengthAdjust="spacingAndGlyphs">DÍAS</text><text x="310.61" y="224.00" font-size="33.9" class="b" fill="#0b4ea2" textLength="15.07" lengthAdjust="spacingAndGlyphs">1</text><text x="335.65" y="224.00" font-size="33.9" class="b" fill="#0b4ea2" textLength="16.18" lengthAdjust="spacingAndGlyphs">–</text><text x="362.19" y="224.00" font-size="33.9" class="b" fill="#0b4ea2" textLength="19.80" lengthAdjust="spacingAndGlyphs">2</text><text x="508.05" y="224.00" font-size="33.9" class="b" fill="#0b4ea2" textLength="82.26" lengthAdjust="spacingAndGlyphs">DÍAS</text><text x="601.20" y="224.00" font-size="33.9" class="b" fill="#0b4ea2" textLength="17.90" lengthAdjust="spacingAndGlyphs">3</text><text x="630.66" y="224.00" font-size="33.9" class="b" fill="#0b4ea2" textLength="15.64" lengthAdjust="spacingAndGlyphs">–</text><text x="657.20" y="224.00" font-size="33.9" class="b" fill="#0b4ea2" textLength="19.77" lengthAdjust="spacingAndGlyphs">4</text><text x="222.25" y="574.20" font-size="33.9" class="b" fill="#0b4ea2" textLength="82.36" lengthAdjust="spacingAndGlyphs">DÍAS</text><text x="316.20" y="574.20" font-size="33.9" class="b" fill="#0b4ea2" textLength="17.90" lengthAdjust="spacingAndGlyphs">5</text><text x="345.65" y="574.20" font-size="33.9" class="b" fill="#0b4ea2" textLength="16.18" lengthAdjust="spacingAndGlyphs">–</text><text x="371.60" y="574.20" font-size="33.9" class="b" fill="#0b4ea2" textLength="21.36" lengthAdjust="spacingAndGlyphs">6</text><text x="543.76" y="574.20" font-size="33.9" class="b" fill="#0b4ea2" textLength="61.62" lengthAdjust="spacingAndGlyphs">DÍA</text><text x="615.78" y="574.20" font-size="33.9" class="b" fill="#0b4ea2" textLength="19.98" lengthAdjust="spacingAndGlyphs">7</text><text x="93.65" y="372.00" font-size="32.4" class="b" fill="#0b4ea2" textLength="67.53" lengthAdjust="spacingAndGlyphs">25%</text><text x="740.04" y="372.00" font-size="32.4" class="b" fill="#0b4ea2" textLength="71.16" lengthAdjust="spacingAndGlyphs">50%</text><text x="94.97" y="717.80" font-size="32.4" class="b" fill="#0b4ea2" textLength="66.20" lengthAdjust="spacingAndGlyphs">75%</text><text x="740.17" y="718.20" font-size="32.4" class="b" fill="#0b4ea2" textLength="87.32" lengthAdjust="spacingAndGlyphs">100%</text><text x="55.03" y="390.00" font-size="15.8" fill="#2460ad" textLength="34.11" lengthAdjust="spacingAndGlyphs">DEL</text><text x="93.80" y="390.00" font-size="15.8" fill="#2460ad" textLength="68.34" lengthAdjust="spacingAndGlyphs">NUEVO</text><text x="68.00" y="410.40" font-size="15.8" fill="#2460ad" textLength="94.10" lengthAdjust="spacingAndGlyphs">ALIMENTO</text><text x="740.34" y="390.00" font-size="15.8" fill="#2460ad" textLength="33.79" lengthAdjust="spacingAndGlyphs">DEL</text><text x="779.50" y="390.00" font-size="15.8" fill="#2460ad" textLength="68.34" lengthAdjust="spacingAndGlyphs">NUEVO</text><text x="741.40" y="410.40" font-size="15.8" fill="#2460ad" textLength="94.41" lengthAdjust="spacingAndGlyphs">ALIMENTO</text><text x="55.03" y="736.80" font-size="15.8" fill="#2460ad" textLength="34.11" lengthAdjust="spacingAndGlyphs">DEL</text><text x="93.80" y="736.80" font-size="15.8" fill="#2460ad" textLength="68.34" lengthAdjust="spacingAndGlyphs">NUEVO</text><text x="68.00" y="757.40" font-size="15.8" fill="#2460ad" textLength="94.10" lengthAdjust="spacingAndGlyphs">ALIMENTO</text><text x="740.34" y="736.80" font-size="15.8" fill="#2460ad" textLength="33.79" lengthAdjust="spacingAndGlyphs">DEL</text><text x="779.50" y="736.80" font-size="15.8" fill="#2460ad" textLength="68.34" lengthAdjust="spacingAndGlyphs">NUEVO</text><text x="741.40" y="757.40" font-size="15.8" fill="#2460ad" textLength="94.41" lengthAdjust="spacingAndGlyphs">ALIMENTO</text></svg></body></html>
